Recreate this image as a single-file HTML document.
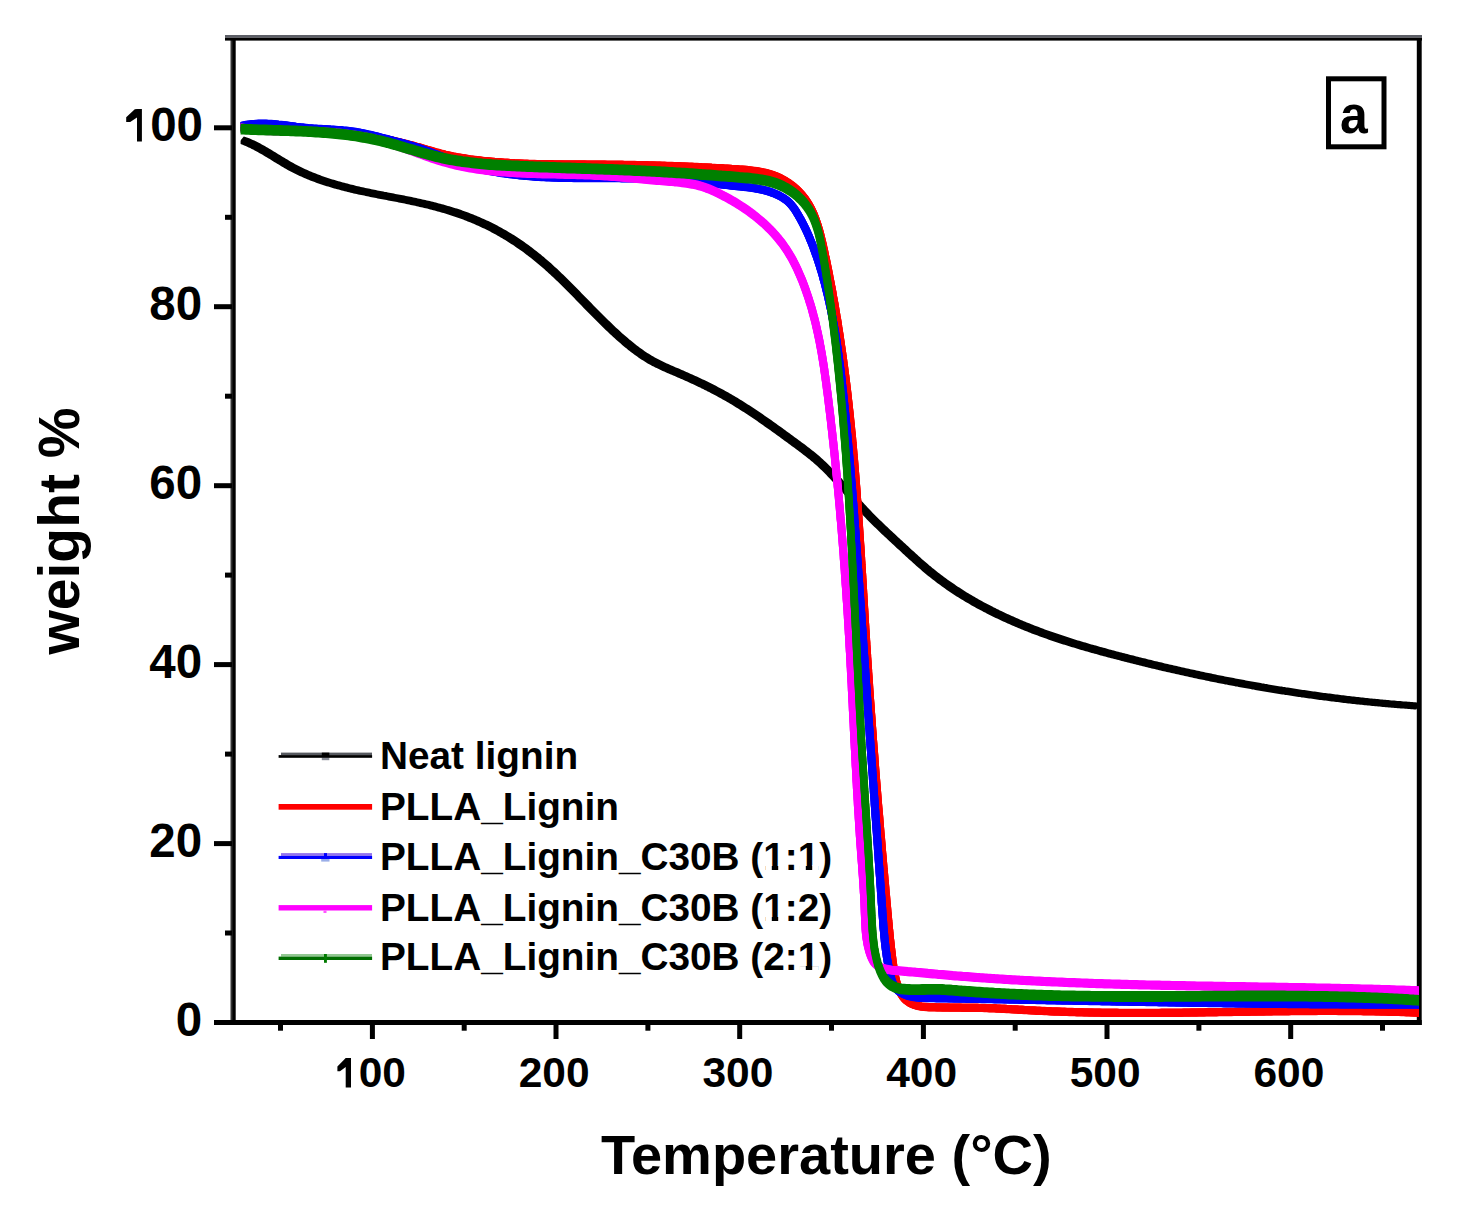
<!DOCTYPE html>
<html><head><meta charset="utf-8"><style>
html,body{margin:0;padding:0;background:#fff;}
body{width:1460px;height:1228px;overflow:hidden;font-family:"Liberation Sans",sans-serif;}
svg{position:absolute;left:0;top:0;}
</style></head><body>
<svg width="1460" height="1228" viewBox="0 0 1460 1228">
<defs><clipPath id="pc"><rect x="240.6" y="40.5" width="1178.4" height="979.5"/></clipPath><path id="cr" d="M241.0,126.8 243.5,126.8 246.0,126.8 248.5,126.9 251.0,126.9 253.4,126.9 255.9,127.0 258.4,127.0 260.9,127.1 263.4,127.1 265.9,127.2 268.4,127.2 270.9,127.3 273.4,127.4 275.9,127.5 278.4,127.6 280.9,127.6 283.3,127.7 285.8,127.9 288.3,128.0 290.8,128.1 293.3,128.2 295.8,128.3 298.3,128.5 300.8,128.6 303.3,128.8 305.8,129.0 308.3,129.1 310.8,129.3 313.3,129.5 315.8,129.7 318.3,129.9 320.8,130.1 323.3,130.3 325.8,130.6 328.3,130.8 330.8,131.0 333.3,131.3 335.7,131.6 338.2,131.9 340.7,132.1 343.2,132.4 345.7,132.7 348.2,133.1 350.6,133.4 353.1,133.7 355.6,134.1 358.1,134.4 360.5,134.8 363.0,135.2 365.5,135.6 367.9,136.0 370.4,136.4 372.9,136.8 375.3,137.3 377.8,137.7 380.2,138.2 382.7,138.7 385.1,139.2 387.6,139.7 390.0,140.2 392.5,140.7 394.9,141.3 397.3,141.8 399.7,142.4 402.2,143.0 404.6,143.6 407.0,144.2 409.4,144.8 411.8,145.4 414.2,146.1 416.7,146.8 419.1,147.4 421.4,148.1 423.8,148.8 426.2,149.5 428.6,150.2 431.0,150.9 433.4,151.6 435.8,152.3 438.2,152.9 440.6,153.6 443.0,154.2 445.5,154.8 447.9,155.3 450.3,155.8 452.7,156.4 455.2,156.8 457.6,157.3 460.1,157.7 462.5,158.1 465.0,158.5 467.4,158.9 469.9,159.3 472.4,159.6 474.8,159.9 477.3,160.2 479.8,160.5 482.2,160.8 484.7,161.1 487.2,161.3 489.7,161.5 492.2,161.7 494.6,162.0 497.1,162.2 499.6,162.3 502.1,162.5 504.6,162.7 507.1,162.8 509.6,163.0 512.1,163.1 514.6,163.3 517.1,163.4 519.5,163.5 522.0,163.6 524.5,163.7 527.0,163.8 529.5,163.9 532.0,163.9 534.5,164.0 537.0,164.1 539.5,164.1 542.0,164.2 544.5,164.2 547.0,164.3 549.5,164.3 552.0,164.3 554.5,164.4 557.0,164.4 559.5,164.4 562.1,164.4 564.6,164.5 567.1,164.5 569.6,164.5 572.1,164.5 574.6,164.5 577.1,164.5 579.6,164.5 582.1,164.5 584.6,164.5 587.1,164.6 589.6,164.6 592.1,164.6 594.6,164.6 597.1,164.6 599.6,164.6 602.1,164.6 604.6,164.6 607.1,164.7 609.6,164.7 612.1,164.7 614.6,164.7 617.1,164.8 619.6,164.8 622.1,164.8 624.6,164.9 627.1,164.9 629.5,164.9 632.0,165.0 634.5,165.0 637.0,165.1 639.5,165.1 642.0,165.2 644.5,165.2 647.0,165.3 649.5,165.4 652.0,165.4 654.5,165.5 657.0,165.6 659.5,165.6 662.0,165.7 664.4,165.8 666.9,165.9 669.4,165.9 671.9,166.0 674.4,166.1 676.9,166.2 679.4,166.3 681.9,166.4 684.4,166.5 686.9,166.6 689.4,166.7 691.9,166.8 694.4,166.9 696.9,167.0 699.4,167.1 701.9,167.3 704.4,167.4 706.8,167.5 709.3,167.6 711.8,167.8 714.3,167.9 716.8,168.1 719.3,168.2 721.8,168.3 724.3,168.5 726.8,168.6 729.3,168.8 731.8,169.0 734.3,169.1 736.9,169.3 739.4,169.5 741.9,169.6 744.4,169.8 746.9,170.0 749.3,170.3 751.8,170.6 754.3,170.9 756.8,171.2 759.2,171.6 761.7,172.1 764.1,172.6 766.5,173.2 768.9,173.8 771.2,174.5 773.6,175.3 775.9,176.2 778.2,177.2 780.5,178.2 782.7,179.4 784.9,180.6 787.1,182.0 789.2,183.4 791.3,184.9 793.3,186.4 795.2,188.1 797.1,189.8 798.9,191.6 800.6,193.4 802.2,195.2 803.8,197.2 805.3,199.1 806.6,201.1 808.0,203.2 809.2,205.3 810.4,207.4 811.5,209.6 812.6,211.8 813.6,214.0 814.5,216.3 815.4,218.6 816.2,220.9 817.0,223.3 817.8,225.6 818.5,228.0 819.2,230.4 819.9,232.8 820.5,235.3 821.1,237.7 821.7,240.2 822.3,242.6 822.9,245.1 823.4,247.6 824.0,250.0 824.5,252.5 825.0,255.0 825.5,257.5 826.1,259.9 826.6,262.4 827.1,264.9 827.6,267.3 828.1,269.8 828.6,272.3 829.1,274.8 829.5,277.2 830.0,279.7 830.5,282.2 831.0,284.6 831.4,287.1 831.9,289.6 832.4,292.0 832.8,294.5 833.2,297.0 833.7,299.4 834.1,301.9 834.6,304.4 835.0,306.8 835.4,309.3 835.8,311.8 836.2,314.2 836.6,316.7 837.1,319.2 837.5,321.6 837.9,324.1 838.2,326.6 838.6,329.0 839.0,331.5 839.4,334.0 839.8,336.4 840.1,338.9 840.5,341.4 840.9,343.8 841.2,346.3 841.6,348.8 841.9,351.2 842.3,353.7 842.6,356.2 843.0,358.6 843.3,361.1 843.6,363.6 844.0,366.0 844.3,368.5 844.6,371.0 844.9,373.4 845.3,375.9 845.6,378.4 845.9,380.9 846.2,383.3 846.5,385.8 846.8,388.3 847.1,390.7 847.4,393.2 847.7,395.7 847.9,398.2 848.2,400.6 848.5,403.1 848.8,405.6 849.0,408.1 849.3,410.5 849.6,413.0 849.8,415.5 850.1,418.0 850.3,420.5 850.6,422.9 850.9,425.4 851.1,427.9 851.3,430.4 851.6,432.9 851.8,435.3 852.1,437.8 852.3,440.3 852.5,442.8 852.8,445.3 853.0,447.8 853.2,450.2 853.4,452.7 853.6,455.2 853.9,457.7 854.1,460.2 854.3,462.7 854.5,465.2 854.7,467.6 854.9,470.1 855.1,472.6 855.3,475.1 855.5,477.6 855.7,480.1 855.9,482.6 856.1,485.1 856.3,487.5 856.5,490.0 856.7,492.5 856.9,495.0 857.0,497.5 857.2,500.0 857.4,502.5 857.6,505.0 857.8,507.5 857.9,510.0 858.1,512.5 858.3,515.0 858.5,517.5 858.6,519.9 858.8,522.4 859.0,524.9 859.1,527.4 859.3,529.9 859.5,532.4 859.6,534.9 859.8,537.4 860.0,539.9 860.1,542.4 860.3,544.9 860.5,547.4 860.6,549.9 860.8,552.4 860.9,554.9 861.1,557.4 861.2,559.9 861.4,562.4 861.5,564.9 861.7,567.3 861.9,569.8 862.0,572.3 862.2,574.8 862.3,577.3 862.5,579.8 862.6,582.3 862.8,584.8 862.9,587.3 863.1,589.8 863.2,592.3 863.4,594.8 863.5,597.3 863.7,599.8 863.8,602.3 864.0,604.8 864.1,607.3 864.3,609.8 864.4,612.3 864.6,614.8 864.7,617.3 864.9,619.8 865.0,622.3 865.2,624.8 865.3,627.3 865.5,629.8 865.7,632.3 865.8,634.8 866.0,637.2 866.1,639.7 866.3,642.2 866.4,644.7 866.6,647.2 866.8,649.7 866.9,652.2 867.1,654.7 867.2,657.2 867.4,659.7 867.6,662.2 867.7,664.7 867.9,667.2 868.1,669.7 868.2,672.2 868.4,674.7 868.6,677.2 868.7,679.7 868.9,682.1 869.1,684.6 869.2,687.1 869.4,689.6 869.6,692.1 869.8,694.6 869.9,697.1 870.1,699.6 870.3,702.1 870.5,704.6 870.7,707.1 870.8,709.6 871.0,712.1 871.2,714.5 871.4,717.0 871.6,719.5 871.7,722.0 871.9,724.5 872.1,727.0 872.3,729.5 872.5,732.0 872.7,734.5 872.8,737.0 873.0,739.5 873.2,741.9 873.4,744.4 873.6,746.9 873.8,749.4 874.0,751.9 874.2,754.4 874.4,756.9 874.6,759.4 874.7,761.9 874.9,764.3 875.1,766.8 875.3,769.3 875.5,771.8 875.7,774.3 875.9,776.8 876.1,779.3 876.3,781.8 876.5,784.3 876.7,786.7 876.9,789.2 877.1,791.7 877.3,794.2 877.5,796.7 877.7,799.2 877.9,801.7 878.1,804.2 878.3,806.6 878.5,809.1 878.8,811.6 879.0,814.1 879.2,816.6 879.4,819.1 879.6,821.6 879.8,824.1 880.0,826.5 880.2,829.0 880.4,831.5 880.6,834.0 880.8,836.5 881.1,839.0 881.3,841.5 881.5,843.9 881.7,846.4 881.9,848.9 882.1,851.4 882.3,853.9 882.6,856.4 882.8,858.9 883.0,861.3 883.2,863.8 883.4,866.3 883.6,868.8 883.9,871.3 884.1,873.8 884.3,876.2 884.5,878.7 884.7,881.2 885.0,883.7 885.2,886.2 885.4,888.7 885.6,891.2 885.8,893.6 886.1,896.1 886.3,898.6 886.5,901.1 886.7,903.6 887.0,906.1 887.2,908.5 887.4,911.0 887.6,913.5 887.9,916.0 888.1,918.5 888.3,921.0 888.6,923.5 888.8,925.9 889.0,928.4 889.3,930.9 889.5,933.4 889.8,935.9 890.0,938.4 890.3,940.9 890.6,943.4 890.8,945.9 891.1,948.3 891.4,950.8 891.7,953.3 892.0,955.8 892.3,958.3 892.6,960.8 893.0,963.3 893.3,965.8 893.7,968.3 894.1,970.8 894.5,973.3 895.0,975.8 895.5,978.3 896.1,980.8 896.8,983.2 897.5,985.6 898.4,988.0 899.3,990.3 900.3,992.5 901.5,994.6 902.8,996.6 904.3,998.4 906.0,1000.1 907.8,1001.5 909.7,1002.8 911.9,1003.9 914.1,1004.8 916.4,1005.5 918.9,1006.1 921.4,1006.5 924.0,1006.8 926.6,1007.0 929.3,1007.2 932.0,1007.3 934.6,1007.3 937.3,1007.4 939.9,1007.4 942.5,1007.5 945.0,1007.5 947.6,1007.5 950.1,1007.6 952.7,1007.6 955.2,1007.6 957.6,1007.6 960.1,1007.6 962.6,1007.7 965.1,1007.7 967.5,1007.7 970.0,1007.7 972.4,1007.8 974.8,1007.8 977.3,1007.8 979.7,1007.9 982.2,1007.9 984.6,1008.0 987.0,1008.1 989.5,1008.2 991.9,1008.2 994.4,1008.3 996.9,1008.5 999.4,1008.6 1001.8,1008.7 1004.3,1008.8 1006.8,1009.0 1009.3,1009.1 1011.8,1009.3 1014.3,1009.4 1016.8,1009.5 1019.3,1009.7 1021.8,1009.8 1024.4,1010.0 1026.9,1010.1 1029.4,1010.3 1031.9,1010.4 1034.4,1010.5 1036.9,1010.7 1039.4,1010.8 1041.9,1010.9 1044.4,1011.0 1046.9,1011.1 1049.4,1011.2 1051.9,1011.4 1054.4,1011.5 1056.9,1011.5 1059.4,1011.6 1061.9,1011.7 1064.5,1011.8 1067.0,1011.9 1069.5,1012.0 1072.0,1012.0 1074.5,1012.1 1077.0,1012.2 1079.4,1012.3 1081.9,1012.3 1084.4,1012.4 1086.9,1012.4 1089.4,1012.5 1091.9,1012.5 1094.4,1012.6 1096.9,1012.6 1099.4,1012.6 1101.9,1012.7 1104.4,1012.7 1106.9,1012.8 1109.4,1012.8 1111.9,1012.8 1114.4,1012.8 1116.9,1012.8 1119.4,1012.9 1121.9,1012.9 1124.3,1012.9 1126.8,1012.9 1129.3,1012.9 1131.8,1012.9 1134.3,1012.9 1136.8,1012.9 1139.3,1012.9 1141.8,1012.9 1144.3,1012.9 1146.8,1012.9 1149.2,1012.9 1151.7,1012.9 1154.2,1012.9 1156.7,1012.9 1159.2,1012.9 1161.7,1012.8 1164.2,1012.8 1166.7,1012.8 1169.2,1012.8 1171.6,1012.8 1174.1,1012.7 1176.6,1012.7 1179.1,1012.7 1181.6,1012.7 1184.1,1012.6 1186.6,1012.6 1189.0,1012.6 1191.5,1012.5 1194.0,1012.5 1196.5,1012.5 1199.0,1012.4 1201.5,1012.4 1204.0,1012.4 1206.5,1012.3 1208.9,1012.3 1211.4,1012.3 1213.9,1012.2 1216.4,1012.2 1218.9,1012.1 1221.4,1012.1 1223.9,1012.1 1226.4,1012.0 1228.8,1012.0 1231.3,1012.0 1233.8,1011.9 1236.3,1011.9 1238.8,1011.8 1241.3,1011.8 1243.8,1011.8 1246.3,1011.7 1248.7,1011.7 1251.2,1011.6 1253.7,1011.6 1256.2,1011.6 1258.7,1011.5 1261.2,1011.5 1263.7,1011.5 1266.2,1011.4 1268.7,1011.4 1271.2,1011.4 1273.6,1011.3 1276.1,1011.3 1278.6,1011.3 1281.1,1011.2 1283.6,1011.2 1286.1,1011.2 1288.6,1011.2 1291.1,1011.1 1293.6,1011.1 1296.1,1011.1 1298.6,1011.1 1301.1,1011.0 1303.6,1011.0 1306.1,1011.0 1308.6,1011.0 1311.1,1011.0 1313.6,1011.0 1316.1,1011.0 1318.6,1010.9 1321.1,1010.9 1323.6,1010.9 1326.1,1010.9 1328.6,1010.9 1331.1,1010.9 1333.6,1010.9 1336.1,1010.9 1338.6,1011.0 1341.1,1011.0 1343.6,1011.0 1346.1,1011.0 1348.6,1011.0 1351.1,1011.0 1353.6,1011.1 1356.1,1011.1 1358.6,1011.1 1361.1,1011.1 1363.6,1011.2 1366.1,1011.2 1368.6,1011.2 1371.1,1011.3 1373.7,1011.3 1376.2,1011.4 1378.7,1011.4 1381.2,1011.5 1383.7,1011.5 1386.2,1011.6 1388.7,1011.7 1391.3,1011.7 1393.8,1011.8 1396.3,1011.9 1398.8,1011.9 1401.3,1012.0 1403.9,1012.1 1406.4,1012.2 1408.9,1012.3 1411.4,1012.4 1413.9,1012.5 1416.5,1012.6 1419.0,1012.7"/><path id="cb" d="M241.0,126.0 243.5,125.5 246.1,125.0 248.6,124.6 251.1,124.3 253.6,124.1 256.1,123.9 258.6,123.8 261.1,123.8 263.6,123.8 266.1,123.8 268.6,123.9 271.1,124.0 273.6,124.2 276.1,124.4 278.5,124.7 281.0,124.9 283.5,125.2 286.0,125.5 288.5,125.8 290.9,126.1 293.4,126.4 295.9,126.8 298.4,127.1 300.9,127.4 303.3,127.6 305.8,127.9 308.3,128.2 310.8,128.4 313.3,128.6 315.8,128.7 318.3,128.9 320.7,129.0 323.2,129.2 325.7,129.3 328.2,129.4 330.7,129.6 333.2,129.7 335.7,129.9 338.1,130.1 340.6,130.2 343.1,130.5 345.6,130.7 348.1,131.0 350.5,131.3 353.0,131.6 355.5,132.0 357.9,132.4 360.4,132.8 362.8,133.3 365.3,133.8 367.7,134.4 370.2,134.9 372.6,135.5 375.1,136.1 377.5,136.7 379.9,137.3 382.4,138.0 384.8,138.6 387.2,139.2 389.6,139.9 392.0,140.5 394.4,141.2 396.9,141.8 399.3,142.4 401.7,143.1 404.1,143.7 406.5,144.4 408.8,145.0 411.2,145.7 413.6,146.4 416.0,147.2 418.4,147.9 420.7,148.7 423.1,149.5 425.4,150.4 427.8,151.2 430.1,152.1 432.5,153.0 434.8,153.9 437.2,154.8 439.5,155.7 441.9,156.6 444.2,157.5 446.6,158.4 448.9,159.2 451.3,160.1 453.7,161.0 456.0,161.8 458.4,162.6 460.8,163.4 463.1,164.1 465.5,164.9 467.9,165.6 470.3,166.3 472.7,166.9 475.1,167.5 477.5,168.1 479.9,168.7 482.4,169.3 484.8,169.8 487.2,170.3 489.6,170.8 492.1,171.3 494.5,171.7 497.0,172.2 499.4,172.6 501.8,173.0 504.3,173.3 506.8,173.7 509.2,174.0 511.7,174.3 514.1,174.6 516.6,174.9 519.1,175.2 521.6,175.4 524.0,175.7 526.5,175.9 529.0,176.1 531.5,176.3 534.0,176.5 536.5,176.7 539.0,176.8 541.5,177.0 544.0,177.1 546.5,177.2 549.0,177.3 551.5,177.4 554.0,177.5 556.5,177.6 559.0,177.7 561.5,177.7 564.0,177.8 566.5,177.9 569.0,177.9 571.5,177.9 574.0,178.0 576.6,178.0 579.1,178.0 581.6,178.1 584.1,178.1 586.6,178.1 589.1,178.1 591.6,178.1 594.2,178.1 596.7,178.1 599.2,178.1 601.7,178.1 604.2,178.1 606.7,178.1 609.2,178.1 611.8,178.1 614.3,178.1 616.8,178.1 619.3,178.1 621.8,178.2 624.3,178.2 626.8,178.2 629.3,178.2 631.8,178.2 634.3,178.3 636.8,178.3 639.3,178.4 641.8,178.4 644.3,178.5 646.8,178.6 649.3,178.6 651.8,178.7 654.3,178.8 656.8,178.9 659.3,179.0 661.7,179.2 664.2,179.3 666.7,179.5 669.2,179.6 671.6,179.8 674.1,180.0 676.6,180.1 679.0,180.3 681.5,180.5 684.0,180.7 686.4,180.9 688.9,181.2 691.4,181.4 693.8,181.6 696.3,181.9 698.8,182.1 701.2,182.3 703.7,182.6 706.2,182.8 708.7,183.1 711.1,183.4 713.6,183.6 716.1,183.9 718.6,184.1 721.1,184.4 723.6,184.7 726.1,184.9 728.6,185.2 731.1,185.5 733.6,185.7 736.1,186.0 738.6,186.2 741.1,186.5 743.7,186.8 746.2,187.1 748.7,187.4 751.2,187.7 753.7,188.1 756.2,188.5 758.6,189.0 761.1,189.5 763.5,190.0 765.9,190.6 768.3,191.3 770.6,192.1 772.9,192.9 775.2,193.8 777.5,194.8 779.7,195.9 781.8,197.1 783.9,198.4 785.9,199.8 787.9,201.4 789.7,203.1 791.3,204.9 792.9,206.9 794.4,208.9 795.8,211.0 797.1,213.2 798.4,215.3 799.6,217.5 800.9,219.7 802.0,221.9 803.2,224.1 804.3,226.4 805.4,228.6 806.5,230.9 807.5,233.1 808.5,235.4 809.5,237.7 810.4,240.0 811.4,242.3 812.3,244.6 813.2,246.9 814.0,249.3 814.9,251.6 815.7,254.0 816.6,256.3 817.4,258.7 818.2,261.1 818.9,263.4 819.7,265.8 820.4,268.2 821.2,270.6 821.9,273.0 822.6,275.4 823.2,277.8 823.9,280.3 824.6,282.7 825.2,285.1 825.8,287.5 826.4,290.0 827.0,292.4 827.6,294.8 828.2,297.2 828.7,299.7 829.3,302.1 829.8,304.6 830.3,307.0 830.9,309.4 831.4,311.9 831.8,314.3 832.3,316.8 832.8,319.2 833.2,321.7 833.7,324.1 834.1,326.6 834.6,329.0 835.0,331.5 835.4,334.0 835.8,336.4 836.2,338.9 836.6,341.4 836.9,343.8 837.3,346.3 837.7,348.8 838.0,351.2 838.3,353.7 838.7,356.2 839.0,358.6 839.3,361.1 839.7,363.6 840.0,366.1 840.3,368.5 840.6,371.0 840.9,373.5 841.2,376.0 841.5,378.5 841.8,380.9 842.0,383.4 842.3,385.9 842.6,388.4 842.9,390.9 843.1,393.3 843.4,395.8 843.7,398.3 843.9,400.8 844.2,403.3 844.4,405.8 844.7,408.3 844.9,410.7 845.2,413.2 845.4,415.7 845.7,418.2 845.9,420.7 846.2,423.2 846.4,425.6 846.7,428.1 846.9,430.6 847.1,433.1 847.4,435.6 847.6,438.1 847.8,440.6 848.1,443.0 848.3,445.5 848.5,448.0 848.7,450.5 849.0,453.0 849.2,455.5 849.4,458.0 849.6,460.5 849.9,462.9 850.1,465.4 850.3,467.9 850.5,470.4 850.7,472.9 850.9,475.4 851.1,477.9 851.3,480.4 851.6,482.9 851.8,485.3 852.0,487.8 852.2,490.3 852.4,492.8 852.6,495.3 852.8,497.8 853.0,500.3 853.2,502.8 853.4,505.3 853.6,507.7 853.8,510.2 854.0,512.7 854.2,515.2 854.3,517.7 854.5,520.2 854.7,522.7 854.9,525.2 855.1,527.7 855.3,530.2 855.5,532.7 855.7,535.1 855.9,537.6 856.0,540.1 856.2,542.6 856.4,545.1 856.6,547.6 856.8,550.1 857.0,552.6 857.1,555.1 857.3,557.6 857.5,560.1 857.7,562.5 857.9,565.0 858.0,567.5 858.2,570.0 858.4,572.5 858.6,575.0 858.7,577.5 858.9,580.0 859.1,582.5 859.3,585.0 859.4,587.5 859.6,590.0 859.8,592.5 860.0,594.9 860.1,597.4 860.3,599.9 860.5,602.4 860.7,604.9 860.8,607.4 861.0,609.9 861.2,612.4 861.4,614.9 861.5,617.4 861.7,619.9 861.9,622.4 862.0,624.9 862.2,627.3 862.4,629.8 862.6,632.3 862.7,634.8 862.9,637.3 863.1,639.8 863.2,642.3 863.4,644.8 863.6,647.3 863.8,649.8 863.9,652.3 864.1,654.8 864.3,657.2 864.5,659.7 864.6,662.2 864.8,664.7 865.0,667.2 865.2,669.7 865.3,672.2 865.5,674.7 865.7,677.2 865.9,679.7 866.0,682.2 866.2,684.7 866.4,687.1 866.6,689.6 866.7,692.1 866.9,694.6 867.1,697.1 867.3,699.6 867.4,702.1 867.6,704.6 867.8,707.1 868.0,709.6 868.1,712.1 868.3,714.6 868.5,717.0 868.7,719.5 868.8,722.0 869.0,724.5 869.2,727.0 869.4,729.5 869.6,732.0 869.7,734.5 869.9,737.0 870.1,739.5 870.3,742.0 870.4,744.4 870.6,746.9 870.8,749.4 871.0,751.9 871.2,754.4 871.3,756.9 871.5,759.4 871.7,761.9 871.9,764.4 872.1,766.9 872.2,769.4 872.4,771.8 872.6,774.3 872.8,776.8 872.9,779.3 873.1,781.8 873.3,784.3 873.5,786.8 873.7,789.3 873.8,791.8 874.0,794.3 874.2,796.8 874.4,799.2 874.6,801.7 874.7,804.2 874.9,806.7 875.1,809.2 875.3,811.7 875.4,814.2 875.6,816.7 875.8,819.2 876.0,821.7 876.2,824.2 876.3,826.6 876.5,829.1 876.7,831.6 876.9,834.1 877.0,836.6 877.2,839.1 877.4,841.6 877.6,844.1 877.8,846.6 877.9,849.1 878.1,851.5 878.3,854.0 878.5,856.5 878.6,859.0 878.8,861.5 879.0,864.0 879.2,866.5 879.4,869.0 879.5,871.5 879.7,874.0 879.9,876.5 880.1,878.9 880.2,881.4 880.4,883.9 880.6,886.4 880.8,888.9 880.9,891.4 881.1,893.9 881.3,896.4 881.5,898.9 881.6,901.4 881.8,903.9 882.0,906.3 882.2,908.8 882.3,911.3 882.5,913.8 882.7,916.3 882.9,918.8 883.1,921.3 883.2,923.8 883.4,926.3 883.6,928.8 883.9,931.2 884.1,933.7 884.3,936.2 884.6,938.7 884.8,941.2 885.1,943.7 885.4,946.2 885.7,948.7 886.0,951.1 886.4,953.6 886.7,956.1 887.1,958.6 887.5,961.1 888.0,963.5 888.4,966.0 888.9,968.5 889.5,971.0 890.0,973.5 890.6,975.9 891.2,978.4 891.9,980.8 892.8,983.1 893.8,985.3 895.1,987.3 896.6,989.2 898.3,990.8 900.3,992.2 902.4,993.5 904.6,994.5 906.9,995.4 909.2,996.1 911.6,996.6 914.0,997.1 916.4,997.4 918.9,997.7 921.4,997.8 923.9,997.9 926.5,998.0 929.0,998.0 931.5,998.1 934.1,998.1 936.6,998.2 939.1,998.2 941.7,998.3 944.2,998.3 946.7,998.3 949.3,998.4 951.8,998.4 954.3,998.5 956.8,998.5 959.4,998.6 961.9,998.6 964.4,998.6 966.9,998.7 969.4,998.7 972.0,998.8 974.5,998.8 977.0,998.9 979.5,998.9 982.0,999.0 984.6,999.0 987.1,999.1 989.6,999.1 992.1,999.1 994.6,999.2 997.1,999.2 999.6,999.3 1002.1,999.3 1004.6,999.4 1007.2,999.4 1009.7,999.5 1012.2,999.5 1014.7,999.6 1017.2,999.6 1019.7,999.7 1022.2,999.7 1024.7,999.8 1027.2,999.8 1029.7,999.8 1032.2,999.9 1034.7,999.9 1037.2,1000.0 1039.7,1000.0 1042.2,1000.1 1044.7,1000.1 1047.2,1000.2 1049.7,1000.2 1052.2,1000.3 1054.7,1000.3 1057.2,1000.4 1059.7,1000.4 1062.2,1000.5 1064.7,1000.5 1067.1,1000.5 1069.6,1000.6 1072.1,1000.6 1074.6,1000.7 1077.1,1000.7 1079.6,1000.8 1082.1,1000.8 1084.6,1000.9 1087.1,1000.9 1089.6,1001.0 1092.1,1001.0 1094.5,1001.1 1097.0,1001.1 1099.5,1001.1 1102.0,1001.2 1104.5,1001.2 1107.0,1001.3 1109.5,1001.3 1112.0,1001.4 1114.4,1001.4 1116.9,1001.5 1119.4,1001.5 1121.9,1001.5 1124.4,1001.6 1126.9,1001.6 1129.3,1001.7 1131.8,1001.7 1134.3,1001.8 1136.8,1001.8 1139.3,1001.9 1141.8,1001.9 1144.3,1001.9 1146.7,1002.0 1149.2,1002.0 1151.7,1002.1 1154.2,1002.1 1156.7,1002.1 1159.1,1002.2 1161.6,1002.2 1164.1,1002.3 1166.6,1002.3 1169.1,1002.4 1171.6,1002.4 1174.0,1002.4 1176.5,1002.5 1179.0,1002.5 1181.5,1002.6 1184.0,1002.6 1186.5,1002.6 1188.9,1002.7 1191.4,1002.7 1193.9,1002.7 1196.4,1002.8 1198.9,1002.8 1201.4,1002.9 1203.8,1002.9 1206.3,1002.9 1208.8,1003.0 1211.3,1003.0 1213.8,1003.0 1216.3,1003.1 1218.7,1003.1 1221.2,1003.1 1223.7,1003.2 1226.2,1003.2 1228.7,1003.3 1231.2,1003.3 1233.6,1003.3 1236.1,1003.4 1238.6,1003.4 1241.1,1003.4 1243.6,1003.4 1246.1,1003.5 1248.6,1003.5 1251.0,1003.5 1253.5,1003.6 1256.0,1003.6 1258.5,1003.6 1261.0,1003.7 1263.5,1003.7 1266.0,1003.7 1268.5,1003.7 1271.0,1003.8 1273.4,1003.8 1275.9,1003.8 1278.4,1003.9 1280.9,1003.9 1283.4,1003.9 1285.9,1003.9 1288.4,1004.0 1290.9,1004.0 1293.4,1004.0 1295.9,1004.0 1298.4,1004.0 1300.9,1004.1 1303.4,1004.1 1305.9,1004.1 1308.4,1004.1 1310.9,1004.2 1313.4,1004.2 1315.9,1004.2 1318.4,1004.2 1320.9,1004.2 1323.4,1004.2 1325.9,1004.3 1328.4,1004.3 1330.9,1004.3 1333.4,1004.3 1335.9,1004.3 1338.4,1004.3 1340.9,1004.4 1343.4,1004.4 1345.9,1004.4 1348.4,1004.4 1350.9,1004.4 1353.4,1004.4 1355.9,1004.4 1358.5,1004.4 1361.0,1004.4 1363.5,1004.5 1366.0,1004.5 1368.5,1004.5 1371.0,1004.5 1373.5,1004.5 1376.1,1004.5 1378.6,1004.5 1381.1,1004.5 1383.6,1004.5 1386.1,1004.5 1388.7,1004.5 1391.2,1004.5 1393.7,1004.5 1396.2,1004.5 1398.8,1004.5 1401.3,1004.5 1403.8,1004.5 1406.3,1004.5 1408.9,1004.5 1411.4,1004.5 1413.9,1004.5 1416.5,1004.5 1419.0,1004.5"/><path id="cm" d="M238.4,127.5 240.8,127.9 243.3,128.3 245.7,128.7 248.2,129.0 250.7,129.3 253.1,129.6 255.6,129.8 258.1,130.0 260.5,130.2 263.0,130.3 265.5,130.5 268.0,130.6 270.5,130.7 273.0,130.7 275.5,130.8 277.9,130.8 280.4,130.9 282.9,130.9 285.4,130.9 287.9,131.0 290.4,131.0 292.9,131.0 295.4,131.0 298.0,131.1 300.5,131.1 303.0,131.2 305.5,131.2 308.0,131.3 310.5,131.4 313.0,131.5 315.5,131.6 318.0,131.7 320.5,131.8 323.0,132.0 325.5,132.1 328.0,132.3 330.5,132.5 333.0,132.7 335.5,132.9 338.0,133.2 340.5,133.4 342.9,133.7 345.4,134.0 347.9,134.3 350.4,134.7 352.8,135.0 355.3,135.4 357.8,135.8 360.2,136.2 362.7,136.7 365.1,137.1 367.6,137.6 370.0,138.1 372.4,138.7 374.9,139.2 377.3,139.8 379.7,140.5 382.1,141.1 384.5,141.8 386.9,142.5 389.3,143.2 391.7,143.9 394.0,144.7 396.4,145.5 398.8,146.3 401.2,147.1 403.5,147.9 405.9,148.7 408.2,149.5 410.6,150.4 412.9,151.2 415.3,152.1 417.6,153.0 420.0,153.8 422.3,154.7 424.7,155.5 427.0,156.3 429.4,157.2 431.7,158.0 434.1,158.8 436.5,159.5 438.8,160.3 441.2,161.0 443.6,161.7 446.0,162.4 448.4,163.1 450.8,163.7 453.2,164.3 455.6,164.9 458.1,165.5 460.5,166.0 462.9,166.5 465.4,167.0 467.8,167.4 470.3,167.9 472.8,168.3 475.2,168.7 477.7,169.1 480.2,169.4 482.6,169.8 485.1,170.1 487.6,170.4 490.1,170.7 492.6,170.9 495.1,171.2 497.5,171.4 500.0,171.6 502.5,171.8 505.0,172.0 507.5,172.2 510.0,172.4 512.5,172.5 515.0,172.7 517.5,172.8 520.0,173.0 522.5,173.1 525.0,173.2 527.5,173.3 530.0,173.4 532.5,173.5 535.0,173.5 537.5,173.6 540.0,173.7 542.5,173.8 545.0,173.8 547.5,173.9 550.0,173.9 552.5,174.0 555.0,174.0 557.5,174.1 560.0,174.2 562.5,174.2 565.0,174.3 567.4,174.3 569.9,174.4 572.4,174.4 574.9,174.5 577.4,174.6 579.9,174.7 582.4,174.7 584.9,174.8 587.4,174.9 589.9,175.0 592.4,175.1 594.9,175.3 597.3,175.4 599.8,175.5 602.3,175.7 604.8,175.8 607.3,176.0 609.8,176.2 612.2,176.4 614.7,176.5 617.2,176.7 619.7,177.0 622.1,177.2 624.6,177.4 627.1,177.6 629.6,177.8 632.1,178.0 634.6,178.3 637.0,178.5 639.5,178.7 642.0,179.0 644.5,179.2 647.0,179.4 649.5,179.6 652.0,179.9 654.5,180.1 657.0,180.3 659.5,180.5 662.0,180.7 664.5,180.9 667.0,181.1 669.5,181.3 672.1,181.5 674.6,181.8 677.1,182.0 679.6,182.3 682.1,182.6 684.5,182.9 687.0,183.3 689.5,183.7 691.9,184.1 694.4,184.6 696.8,185.1 699.2,185.7 701.6,186.4 703.9,187.1 706.3,188.0 708.6,188.8 710.9,189.8 713.1,190.8 715.4,191.8 717.6,192.9 719.9,194.0 722.1,195.1 724.3,196.3 726.5,197.4 728.7,198.6 730.9,199.9 733.1,201.1 735.3,202.4 737.4,203.7 739.5,205.1 741.6,206.4 743.7,207.8 745.8,209.2 747.9,210.7 749.9,212.1 751.9,213.6 753.9,215.1 755.9,216.7 757.8,218.3 759.7,219.9 761.6,221.5 763.5,223.1 765.3,224.8 767.1,226.5 768.9,228.3 770.7,230.0 772.4,231.8 774.1,233.7 775.7,235.5 777.3,237.4 778.9,239.3 780.5,241.3 782.0,243.2 783.4,245.2 784.9,247.3 786.3,249.3 787.6,251.4 788.9,253.5 790.2,255.7 791.5,257.8 792.7,260.0 793.8,262.2 795.0,264.5 796.1,266.7 797.2,269.0 798.2,271.3 799.2,273.6 800.2,275.9 801.2,278.2 802.2,280.5 803.1,282.9 804.0,285.2 804.8,287.6 805.7,289.9 806.5,292.3 807.3,294.6 808.1,297.0 808.9,299.4 809.6,301.8 810.4,304.2 811.1,306.5 811.8,308.9 812.4,311.3 813.1,313.7 813.7,316.1 814.4,318.6 815.0,321.0 815.6,323.4 816.1,325.8 816.7,328.3 817.2,330.7 817.8,333.1 818.3,335.6 818.8,338.0 819.3,340.4 819.8,342.9 820.2,345.3 820.7,347.8 821.1,350.2 821.6,352.7 822.0,355.2 822.4,357.6 822.8,360.1 823.2,362.6 823.6,365.0 824.0,367.5 824.3,370.0 824.7,372.4 825.0,374.9 825.4,377.4 825.7,379.9 826.1,382.4 826.4,384.8 826.7,387.3 827.0,389.8 827.4,392.3 827.7,394.8 828.0,397.2 828.3,399.7 828.6,402.2 828.9,404.7 829.2,407.2 829.5,409.6 829.8,412.1 830.1,414.6 830.4,417.1 830.7,419.6 831.0,422.1 831.2,424.5 831.5,427.0 831.8,429.5 832.1,432.0 832.4,434.5 832.6,436.9 832.9,439.4 833.2,441.9 833.5,444.4 833.7,446.9 834.0,449.4 834.3,451.8 834.5,454.3 834.8,456.8 835.0,459.3 835.3,461.8 835.5,464.2 835.8,466.7 836.0,469.2 836.3,471.7 836.5,474.2 836.8,476.7 837.0,479.1 837.3,481.6 837.5,484.1 837.7,486.6 838.0,489.1 838.2,491.6 838.4,494.0 838.7,496.5 838.9,499.0 839.1,501.5 839.3,504.0 839.6,506.5 839.8,508.9 840.0,511.4 840.2,513.9 840.4,516.4 840.6,518.9 840.9,521.4 841.1,523.8 841.3,526.3 841.5,528.8 841.7,531.3 841.9,533.8 842.1,536.3 842.3,538.8 842.5,541.2 842.7,543.7 842.9,546.2 843.1,548.7 843.3,551.2 843.5,553.7 843.7,556.2 843.8,558.7 844.0,561.1 844.2,563.6 844.4,566.1 844.6,568.6 844.8,571.1 844.9,573.6 845.1,576.1 845.3,578.6 845.5,581.1 845.6,583.5 845.8,586.0 846.0,588.5 846.1,591.0 846.3,593.5 846.5,596.0 846.6,598.5 846.8,601.0 847.0,603.5 847.1,606.0 847.3,608.5 847.5,610.9 847.6,613.4 847.8,615.9 847.9,618.4 848.1,620.9 848.2,623.4 848.4,625.9 848.5,628.4 848.7,630.9 848.8,633.4 849.0,635.9 849.1,638.4 849.3,640.9 849.4,643.4 849.5,645.9 849.7,648.4 849.8,650.9 850.0,653.4 850.1,655.9 850.2,658.4 850.4,660.9 850.5,663.4 850.6,665.9 850.8,668.4 850.9,670.9 851.0,673.4 851.2,675.9 851.3,678.4 851.4,680.9 851.6,683.4 851.7,685.9 851.8,688.4 851.9,690.9 852.1,693.4 852.2,695.9 852.3,698.4 852.4,700.9 852.6,703.4 852.7,705.9 852.8,708.4 852.9,710.9 853.1,713.4 853.2,715.9 853.3,718.4 853.4,720.9 853.6,723.4 853.7,725.9 853.8,728.4 853.9,730.9 854.1,733.4 854.2,735.9 854.3,738.4 854.4,740.9 854.6,743.4 854.7,745.9 854.8,748.4 855.0,750.9 855.1,753.4 855.2,755.9 855.3,758.4 855.5,760.8 855.6,763.3 855.7,765.8 855.9,768.3 856.0,770.8 856.1,773.3 856.3,775.8 856.4,778.3 856.5,780.8 856.7,783.3 856.8,785.8 856.9,788.2 857.1,790.7 857.2,793.2 857.4,795.7 857.5,798.2 857.7,800.7 857.8,803.2 857.9,805.6 858.1,808.1 858.2,810.6 858.4,813.1 858.6,815.6 858.7,818.0 858.9,820.5 859.0,823.0 859.2,825.5 859.3,827.9 859.5,830.4 859.7,832.9 859.8,835.4 860.0,837.8 860.2,840.3 860.3,842.8 860.5,845.2 860.7,847.7 860.9,850.2 861.0,852.6 861.2,855.1 861.4,857.5 861.6,860.0 861.8,862.5 862.0,864.9 862.1,867.4 862.3,869.9 862.5,872.3 862.7,874.8 862.9,877.3 863.0,879.8 863.2,882.3 863.4,884.7 863.5,887.2 863.7,889.7 863.8,892.2 864.0,894.8 864.1,897.3 864.2,899.8 864.4,902.3 864.5,904.9 864.6,907.4 864.7,910.0 864.8,912.6 864.9,915.1 865.0,917.7 865.1,920.3 865.2,922.9 865.4,925.4 865.5,928.0 865.7,930.6 865.9,933.1 866.2,935.6 866.5,938.2 866.9,940.6 867.3,943.1 867.8,945.6 868.4,948.0 869.0,950.4 869.7,952.7 870.5,955.0 871.4,957.3 872.4,959.4 873.5,961.5 874.9,963.3 876.5,964.8 878.3,966.1 880.2,967.2 882.3,968.1 884.6,968.8 887.0,969.4 889.4,969.8 892.0,970.2 894.6,970.5 897.2,970.7 899.8,970.9 902.4,971.1 905.0,971.3 907.6,971.6 910.2,971.8 912.7,972.0 915.3,972.2 917.8,972.5 920.3,972.7 922.8,972.9 925.3,973.1 927.8,973.4 930.3,973.6 932.8,973.8 935.3,974.0 937.8,974.3 940.2,974.5 942.7,974.7 945.2,974.9 947.7,975.1 950.1,975.3 952.6,975.6 955.1,975.8 957.6,976.0 960.1,976.2 962.5,976.4 965.0,976.5 967.5,976.7 970.0,976.9 972.4,977.1 974.9,977.3 977.4,977.5 979.9,977.7 982.4,977.8 984.9,978.0 987.3,978.2 989.8,978.3 992.3,978.5 994.8,978.7 997.3,978.8 999.7,979.0 1002.2,979.1 1004.7,979.3 1007.2,979.5 1009.7,979.6 1012.2,979.8 1014.7,979.9 1017.1,980.0 1019.6,980.2 1022.1,980.3 1024.6,980.5 1027.1,980.6 1029.6,980.7 1032.1,980.8 1034.6,981.0 1037.1,981.1 1039.5,981.2 1042.0,981.3 1044.5,981.5 1047.0,981.6 1049.5,981.7 1052.0,981.8 1054.5,981.9 1057.0,982.0 1059.5,982.1 1062.0,982.2 1064.5,982.3 1066.9,982.5 1069.4,982.6 1071.9,982.7 1074.4,982.7 1076.9,982.8 1079.4,982.9 1081.9,983.0 1084.4,983.1 1086.9,983.2 1089.4,983.3 1091.9,983.4 1094.4,983.5 1096.9,983.6 1099.4,983.6 1101.9,983.7 1104.4,983.8 1106.9,983.9 1109.4,983.9 1111.9,984.0 1114.4,984.1 1116.9,984.2 1119.3,984.2 1121.8,984.3 1124.3,984.4 1126.8,984.4 1129.3,984.5 1131.8,984.6 1134.3,984.6 1136.8,984.7 1139.3,984.8 1141.8,984.8 1144.3,984.9 1146.8,985.0 1149.3,985.0 1151.8,985.1 1154.3,985.1 1156.8,985.2 1159.3,985.2 1161.8,985.3 1164.3,985.3 1166.8,985.4 1169.3,985.4 1171.8,985.5 1174.3,985.5 1176.8,985.6 1179.3,985.6 1181.8,985.7 1184.3,985.7 1186.8,985.8 1189.3,985.8 1191.8,985.9 1194.3,985.9 1196.8,986.0 1199.3,986.0 1201.8,986.0 1204.3,986.1 1206.8,986.1 1209.3,986.2 1211.8,986.2 1214.3,986.3 1216.8,986.3 1219.3,986.3 1221.8,986.4 1224.3,986.4 1226.8,986.5 1229.3,986.5 1231.8,986.5 1234.3,986.6 1236.8,986.6 1239.3,986.7 1241.8,986.7 1244.3,986.7 1246.8,986.8 1249.3,986.8 1251.8,986.9 1254.3,986.9 1256.8,986.9 1259.3,987.0 1261.8,987.0 1264.3,987.1 1266.8,987.1 1269.3,987.1 1271.8,987.2 1274.3,987.2 1276.8,987.3 1279.3,987.3 1281.8,987.3 1284.3,987.4 1286.8,987.4 1289.3,987.5 1291.8,987.5 1294.3,987.5 1296.8,987.6 1299.3,987.6 1301.8,987.7 1304.3,987.7 1306.8,987.8 1309.3,987.8 1311.8,987.9 1314.3,987.9 1316.8,988.0 1319.3,988.0 1321.8,988.1 1324.3,988.1 1326.8,988.2 1329.3,988.2 1331.8,988.3 1334.3,988.3 1336.8,988.4 1339.3,988.4 1341.7,988.5 1344.2,988.5 1346.7,988.6 1349.2,988.6 1351.7,988.7 1354.2,988.8 1356.7,988.8 1359.2,988.9 1361.7,989.0 1364.2,989.0 1366.7,989.1 1369.2,989.2 1371.7,989.2 1374.2,989.3 1376.6,989.4 1379.1,989.4 1381.6,989.5 1384.1,989.6 1386.6,989.7 1389.1,989.7 1391.6,989.8 1394.1,989.9 1396.6,990.0 1399.1,990.1 1401.5,990.1 1404.0,990.2 1406.5,990.3 1409.0,990.4 1411.5,990.5 1414.0,990.6 1416.5,990.7 1419.0,990.8"/><path id="cg" d="M241.0,129.1 243.5,129.2 246.0,129.3 248.5,129.4 251.0,129.5 253.5,129.6 255.9,129.7 258.4,129.8 260.9,129.9 263.4,129.9 265.9,130.0 268.4,130.1 270.9,130.2 273.4,130.3 275.9,130.3 278.4,130.4 280.9,130.5 283.4,130.6 285.9,130.6 288.4,130.7 290.9,130.8 293.4,130.9 295.9,131.0 298.4,131.1 300.9,131.2 303.4,131.3 305.9,131.4 308.4,131.6 310.9,131.7 313.4,131.8 315.9,132.0 318.4,132.2 320.9,132.3 323.4,132.5 325.9,132.7 328.4,132.9 330.9,133.1 333.4,133.3 335.9,133.6 338.4,133.8 340.8,134.1 343.3,134.4 345.8,134.7 348.3,135.0 350.7,135.3 353.2,135.7 355.7,136.0 358.1,136.4 360.6,136.8 363.1,137.3 365.5,137.7 368.0,138.2 370.4,138.6 372.8,139.1 375.3,139.7 377.7,140.2 380.1,140.8 382.6,141.4 385.0,142.0 387.4,142.6 389.8,143.3 392.2,144.0 394.6,144.6 397.0,145.3 399.4,146.0 401.9,146.7 404.3,147.5 406.7,148.2 409.1,148.9 411.5,149.6 413.9,150.3 416.3,151.1 418.7,151.8 421.1,152.5 423.5,153.2 425.9,153.8 428.3,154.5 430.7,155.1 433.1,155.8 435.5,156.4 438.0,157.0 440.4,157.5 442.8,158.1 445.3,158.6 447.7,159.1 450.1,159.6 452.6,160.0 455.0,160.4 457.5,160.8 460.0,161.2 462.4,161.6 464.9,161.9 467.4,162.2 469.8,162.5 472.3,162.8 474.8,163.1 477.3,163.4 479.8,163.6 482.2,163.9 484.7,164.1 487.2,164.3 489.7,164.5 492.2,164.7 494.7,164.8 497.2,165.0 499.7,165.1 502.2,165.3 504.7,165.4 507.2,165.6 509.7,165.7 512.2,165.8 514.7,165.9 517.2,166.0 519.7,166.2 522.2,166.3 524.7,166.4 527.2,166.5 529.7,166.6 532.2,166.7 534.7,166.8 537.2,166.9 539.7,167.0 542.2,167.1 544.7,167.2 547.2,167.2 549.7,167.3 552.2,167.4 554.7,167.5 557.2,167.6 559.7,167.7 562.2,167.8 564.7,167.9 567.2,168.0 569.7,168.0 572.2,168.1 574.7,168.2 577.2,168.3 579.7,168.4 582.2,168.5 584.7,168.5 587.2,168.6 589.7,168.7 592.2,168.8 594.7,168.9 597.2,169.0 599.7,169.1 602.2,169.2 604.7,169.3 607.2,169.3 609.7,169.4 612.2,169.5 614.7,169.6 617.1,169.7 619.6,169.8 622.1,169.9 624.6,170.0 627.1,170.1 629.6,170.2 632.1,170.3 634.6,170.5 637.1,170.6 639.6,170.7 642.1,170.8 644.6,170.9 647.0,171.1 649.5,171.2 652.0,171.3 654.5,171.4 657.0,171.6 659.5,171.7 662.0,171.9 664.5,172.0 666.9,172.1 669.4,172.3 671.9,172.4 674.4,172.6 676.9,172.8 679.4,172.9 681.9,173.1 684.4,173.2 686.8,173.4 689.3,173.6 691.8,173.7 694.3,173.9 696.8,174.1 699.3,174.3 701.8,174.5 704.3,174.6 706.8,174.8 709.3,175.0 711.8,175.2 714.3,175.4 716.8,175.6 719.3,175.8 721.8,176.0 724.3,176.1 726.8,176.3 729.3,176.5 731.8,176.7 734.3,176.9 736.8,177.1 739.3,177.4 741.8,177.6 744.3,177.8 746.8,178.0 749.4,178.2 751.9,178.5 754.4,178.8 756.8,179.1 759.3,179.5 761.8,179.9 764.2,180.3 766.6,180.8 769.1,181.4 771.4,182.0 773.8,182.7 776.1,183.5 778.5,184.4 780.7,185.4 783.0,186.4 785.2,187.6 787.4,188.8 789.5,190.1 791.6,191.5 793.6,192.9 795.6,194.5 797.5,196.1 799.3,197.8 801.1,199.5 802.8,201.4 804.4,203.2 806.0,205.2 807.4,207.2 808.8,209.2 810.1,211.3 811.3,213.5 812.4,215.7 813.4,217.9 814.4,220.2 815.3,222.5 816.1,224.9 816.9,227.3 817.6,229.7 818.3,232.1 818.9,234.5 819.5,237.0 820.0,239.5 820.6,242.0 821.1,244.5 821.5,247.0 822.0,249.5 822.5,252.0 822.9,254.5 823.4,257.0 823.8,259.4 824.2,261.9 824.6,264.4 825.0,266.9 825.4,269.4 825.8,271.8 826.2,274.3 826.6,276.8 827.0,279.3 827.4,281.7 827.7,284.2 828.1,286.7 828.5,289.1 828.8,291.6 829.2,294.1 829.5,296.5 829.9,299.0 830.2,301.5 830.5,303.9 830.9,306.4 831.2,308.9 831.5,311.3 831.9,313.8 832.2,316.3 832.5,318.7 832.8,321.2 833.1,323.7 833.4,326.2 833.7,328.6 834.0,331.1 834.3,333.6 834.6,336.1 834.9,338.5 835.2,341.0 835.5,343.5 835.8,346.0 836.1,348.4 836.3,350.9 836.6,353.4 836.9,355.9 837.2,358.3 837.4,360.8 837.7,363.3 838.0,365.8 838.2,368.3 838.5,370.7 838.7,373.2 839.0,375.7 839.2,378.2 839.5,380.7 839.7,383.2 840.0,385.6 840.2,388.1 840.4,390.6 840.7,393.1 840.9,395.6 841.1,398.1 841.4,400.5 841.6,403.0 841.8,405.5 842.0,408.0 842.3,410.5 842.5,413.0 842.7,415.5 842.9,417.9 843.1,420.4 843.3,422.9 843.5,425.4 843.7,427.9 843.9,430.4 844.1,432.9 844.3,435.4 844.5,437.9 844.7,440.3 844.9,442.8 845.1,445.3 845.3,447.8 845.5,450.3 845.7,452.8 845.9,455.3 846.0,457.8 846.2,460.3 846.4,462.8 846.6,465.3 846.7,467.8 846.9,470.2 847.1,472.7 847.3,475.2 847.4,477.7 847.6,480.2 847.8,482.7 847.9,485.2 848.1,487.7 848.3,490.2 848.4,492.7 848.6,495.2 848.7,497.7 848.9,500.2 849.0,502.7 849.2,505.2 849.3,507.7 849.5,510.2 849.6,512.7 849.8,515.2 849.9,517.7 850.1,520.1 850.2,522.6 850.4,525.1 850.5,527.6 850.7,530.1 850.8,532.6 850.9,535.1 851.1,537.6 851.2,540.1 851.3,542.6 851.5,545.1 851.6,547.6 851.8,550.1 851.9,552.6 852.0,555.1 852.2,557.6 852.3,560.1 852.4,562.6 852.5,565.1 852.7,567.6 852.8,570.1 852.9,572.6 853.1,575.1 853.2,577.6 853.3,580.1 853.4,582.6 853.6,585.1 853.7,587.6 853.8,590.1 853.9,592.6 854.1,595.1 854.2,597.6 854.3,600.1 854.4,602.6 854.5,605.1 854.7,607.6 854.8,610.1 854.9,612.6 855.0,615.1 855.2,617.6 855.3,620.1 855.4,622.6 855.5,625.1 855.6,627.6 855.8,630.1 855.9,632.6 856.0,635.1 856.1,637.6 856.2,640.1 856.4,642.6 856.5,645.1 856.6,647.6 856.7,650.1 856.8,652.6 857.0,655.1 857.1,657.6 857.2,660.1 857.3,662.5 857.5,665.0 857.6,667.5 857.7,670.0 857.8,672.5 858.0,675.0 858.1,677.5 858.2,680.0 858.3,682.5 858.5,685.0 858.6,687.5 858.7,690.0 858.8,692.5 859.0,695.0 859.1,697.5 859.2,700.0 859.4,702.5 859.5,705.0 859.6,707.5 859.7,710.0 859.9,712.5 860.0,715.0 860.2,717.4 860.3,719.9 860.4,722.4 860.6,724.9 860.7,727.4 860.8,729.9 861.0,732.4 861.1,734.9 861.3,737.4 861.4,739.9 861.5,742.4 861.7,744.9 861.8,747.3 862.0,749.8 862.1,752.3 862.3,754.8 862.4,757.3 862.6,759.8 862.7,762.3 862.9,764.8 863.1,767.3 863.2,769.7 863.4,772.2 863.5,774.7 863.7,777.2 863.8,779.7 864.0,782.2 864.2,784.7 864.3,787.2 864.5,789.6 864.6,792.1 864.8,794.6 865.0,797.1 865.1,799.6 865.3,802.1 865.4,804.6 865.6,807.1 865.8,809.6 865.9,812.0 866.1,814.5 866.2,817.0 866.4,819.5 866.6,822.0 866.7,824.5 866.9,827.0 867.0,829.5 867.2,832.0 867.3,834.4 867.5,836.9 867.6,839.4 867.8,841.9 868.0,844.4 868.1,846.9 868.3,849.4 868.4,851.9 868.6,854.4 868.7,856.9 868.8,859.4 869.0,861.9 869.1,864.4 869.3,866.9 869.4,869.4 869.6,871.9 869.7,874.4 869.8,876.9 870.0,879.4 870.1,881.9 870.2,884.4 870.4,886.9 870.5,889.4 870.6,891.9 870.7,894.4 870.8,896.9 871.0,899.4 871.1,901.9 871.2,904.4 871.3,906.9 871.4,909.4 871.5,912.0 871.6,914.5 871.7,917.0 871.9,919.5 872.0,922.0 872.1,924.5 872.3,927.0 872.4,929.5 872.6,932.0 872.8,934.5 873.0,937.0 873.3,939.5 873.6,942.0 873.9,944.5 874.2,947.0 874.6,949.5 875.1,951.9 875.5,954.4 876.1,956.8 876.6,959.3 877.3,961.7 877.9,964.2 878.7,966.6 879.5,968.9 880.4,971.2 881.4,973.5 882.5,975.6 883.7,977.7 885.0,979.6 886.5,981.4 888.1,983.0 889.9,984.5 891.8,985.8 893.9,986.8 896.1,987.7 898.5,988.3 901.1,988.8 903.7,989.1 906.3,989.4 909.0,989.5 911.7,989.6 914.3,989.6 916.9,989.6 919.5,989.6 922.1,989.5 924.6,989.5 927.1,989.4 929.7,989.4 932.2,989.4 934.7,989.4 937.2,989.4 939.6,989.4 942.1,989.5 944.6,989.7 947.1,989.8 949.6,990.0 952.1,990.2 954.5,990.3 957.0,990.5 959.5,990.8 962.0,991.0 964.5,991.1 966.9,991.3 969.4,991.5 971.9,991.7 974.4,991.9 976.9,992.1 979.3,992.2 981.8,992.4 984.3,992.6 986.8,992.7 989.3,992.9 991.8,993.0 994.3,993.2 996.7,993.3 999.2,993.4 1001.7,993.6 1004.2,993.7 1006.7,993.8 1009.2,994.0 1011.7,994.1 1014.2,994.2 1016.7,994.3 1019.1,994.4 1021.6,994.5 1024.1,994.6 1026.6,994.7 1029.1,994.8 1031.6,994.9 1034.1,995.0 1036.6,995.1 1039.1,995.2 1041.6,995.2 1044.1,995.3 1046.6,995.4 1049.1,995.5 1051.6,995.5 1054.1,995.6 1056.6,995.7 1059.1,995.7 1061.6,995.8 1064.1,995.8 1066.6,995.9 1069.1,995.9 1071.6,996.0 1074.1,996.0 1076.6,996.1 1079.1,996.1 1081.6,996.1 1084.1,996.2 1086.6,996.2 1089.1,996.2 1091.6,996.3 1094.1,996.3 1096.6,996.3 1099.1,996.4 1101.6,996.4 1104.1,996.4 1106.6,996.4 1109.1,996.4 1111.6,996.4 1114.1,996.5 1116.6,996.5 1119.1,996.5 1121.6,996.5 1124.1,996.5 1126.6,996.5 1129.1,996.5 1131.6,996.5 1134.1,996.5 1136.6,996.5 1139.2,996.5 1141.7,996.5 1144.2,996.5 1146.7,996.5 1149.2,996.5 1151.7,996.5 1154.2,996.5 1156.7,996.5 1159.2,996.5 1161.7,996.5 1164.2,996.4 1166.7,996.4 1169.2,996.4 1171.7,996.4 1174.2,996.4 1176.8,996.4 1179.3,996.4 1181.8,996.4 1184.3,996.3 1186.8,996.3 1189.3,996.3 1191.8,996.3 1194.3,996.3 1196.8,996.3 1199.3,996.3 1201.8,996.2 1204.3,996.2 1206.8,996.2 1209.3,996.2 1211.9,996.2 1214.4,996.2 1216.9,996.1 1219.4,996.1 1221.9,996.1 1224.4,996.1 1226.9,996.1 1229.4,996.1 1231.9,996.1 1234.4,996.1 1236.9,996.0 1239.4,996.0 1241.9,996.0 1244.4,996.0 1246.9,996.0 1249.4,996.0 1251.9,996.0 1254.5,996.0 1257.0,996.0 1259.5,996.0 1262.0,996.0 1264.5,996.0 1267.0,996.0 1269.5,996.0 1272.0,996.0 1274.5,996.0 1277.0,996.0 1279.5,996.0 1282.0,996.0 1284.5,996.0 1287.0,996.1 1289.5,996.1 1292.0,996.1 1294.5,996.1 1297.0,996.1 1299.5,996.2 1302.0,996.2 1304.5,996.2 1307.0,996.2 1309.5,996.3 1312.0,996.3 1314.5,996.3 1317.0,996.4 1319.5,996.4 1322.0,996.4 1324.5,996.5 1327.0,996.5 1329.5,996.6 1332.0,996.6 1334.5,996.7 1337.0,996.7 1339.5,996.8 1341.9,996.9 1344.4,996.9 1346.9,997.0 1349.4,997.0 1351.9,997.1 1354.4,997.2 1356.9,997.3 1359.4,997.4 1361.9,997.4 1364.4,997.5 1366.9,997.6 1369.3,997.7 1371.8,997.8 1374.3,997.9 1376.8,998.0 1379.3,998.1 1381.8,998.2 1384.3,998.3 1386.8,998.4 1389.2,998.6 1391.7,998.7 1394.2,998.8 1396.7,998.9 1399.2,999.1 1401.6,999.2 1404.1,999.4 1406.6,999.5 1409.1,999.7 1411.6,999.8 1414.0,1000.0 1416.5,1000.1 1419.0,1000.3"/></defs>
<rect x="225" y="35" width="197" height="0" fill="none"/>
<rect x="230.5" y="38" width="1.6" height="987" fill="#333"/>
<rect x="232.1" y="38" width="3.6" height="987" fill="#000"/>
<rect x="1416.8" y="38" width="4.9" height="987" fill="#000"/>
<rect x="225" y="35" width="1197" height="2.8" fill="#5c5e66"/>
<rect x="225" y="37.8" width="1197" height="2.8" fill="#000"/>
<rect x="214" y="1020" width="1207.7" height="5" fill="#000"/>
<rect x="214" y="1020.0" width="18" height="5" fill="#000"/>
<rect x="214" y="841.1" width="18" height="5" fill="#000"/>
<rect x="214" y="662.1" width="18" height="5" fill="#000"/>
<rect x="214" y="483.2" width="18" height="5" fill="#000"/>
<rect x="214" y="304.2" width="18" height="5" fill="#000"/>
<rect x="214" y="125.3" width="18" height="5" fill="#000"/>
<rect x="225" y="930.5" width="7" height="5" fill="#000"/>
<rect x="225" y="751.6" width="7" height="5" fill="#000"/>
<rect x="225" y="572.6" width="7" height="5" fill="#000"/>
<rect x="225" y="393.7" width="7" height="5" fill="#000"/>
<rect x="225" y="214.8" width="7" height="5" fill="#000"/>
<rect x="369.9" y="1024" width="5" height="15" fill="#000"/>
<rect x="553.5" y="1024" width="5" height="15" fill="#000"/>
<rect x="737.2" y="1024" width="5" height="15" fill="#000"/>
<rect x="920.9" y="1024" width="5" height="15" fill="#000"/>
<rect x="1104.5" y="1024" width="5" height="15" fill="#000"/>
<rect x="1288.2" y="1024" width="5" height="15" fill="#000"/>
<rect x="278.0" y="1024" width="5" height="6.7" fill="#000"/>
<rect x="461.7" y="1024" width="5" height="6.7" fill="#000"/>
<rect x="645.4" y="1024" width="5" height="6.7" fill="#000"/>
<rect x="829.0" y="1024" width="5" height="6.7" fill="#000"/>
<rect x="1012.7" y="1024" width="5" height="6.7" fill="#000"/>
<rect x="1196.4" y="1024" width="5" height="6.7" fill="#000"/>
<rect x="1380.0" y="1024" width="5" height="6.7" fill="#000"/>
<rect x="281" y="752.6" width="91" height="2.6" fill="#575a60"/>
<rect x="278.6" y="755.1" width="93.5" height="2.7" fill="#000"/>
<rect x="321.8" y="752.6" width="7.5" height="5.2" fill="#000"/>
<rect x="321.8" y="757.8" width="7.5" height="2.4" fill="#8a8e98"/>
<rect x="278.6" y="804" width="93.5" height="5.7" fill="#ff0000"/>
<rect x="281" y="853.1" width="91" height="2.8" fill="#9274ee"/>
<rect x="278.6" y="855.9" width="93.5" height="3.1" fill="#0000ff"/>
<rect x="324" y="853.1" width="3" height="3" fill="#0000ff"/>
<rect x="321.2" y="859" width="8.3" height="2.6" fill="#9aaee8"/>
<rect x="278.6" y="905.1" width="93.5" height="5.4" fill="#ff00ff"/>
<rect x="323.5" y="910.5" width="3" height="2.5" fill="#ff55ff"/>
<rect x="281" y="954" width="91" height="2.6" fill="#92c892"/>
<rect x="278.6" y="956.6" width="93.5" height="3.4" fill="#006e00"/>
<rect x="324" y="954" width="2.9" height="8.8" fill="#007a00"/>
<rect x="1328.5" y="78.8" width="55.5" height="68" fill="#fff" stroke="#000" stroke-width="5"/>
<g clip-path="url(#pc)">
<path d="M243.8,136.4 245.3,136.9 246.8,137.5 248.3,138.0 249.8,138.6 251.3,139.3 252.8,139.9 254.3,140.6 255.8,141.3 257.3,142.1 258.8,142.8 260.3,143.6 261.8,144.4 263.3,145.3 264.8,146.1 266.3,147.0 267.8,147.8 269.3,148.7 270.8,149.6 272.3,150.5 273.8,151.4 275.3,152.3 276.8,153.3 278.3,154.2 279.8,155.1 281.3,156.0 282.8,156.9 284.3,157.8 285.8,158.7 287.3,159.6 288.8,160.5 290.3,161.4 291.8,162.2 293.3,163.1 294.8,163.9 296.3,164.7 297.8,165.5 299.3,166.3 300.8,167.0 302.3,167.7 303.8,168.5 305.3,169.2 306.8,169.8 308.3,170.5 309.8,171.2 311.3,171.8 312.8,172.4 314.3,173.0 315.8,173.6 317.3,174.2 318.8,174.8 320.3,175.3 321.8,175.9 323.3,176.4 324.8,176.9 326.3,177.4 327.8,177.9 329.3,178.4 330.8,178.9 332.3,179.4 333.8,179.8 335.3,180.3 336.8,180.7 338.3,181.2 339.8,181.6 341.3,182.0 342.8,182.4 344.3,182.8 345.8,183.2 347.3,183.6 348.8,184.0 350.3,184.4 351.8,184.8 353.3,185.1 354.8,185.5 356.3,185.9 357.8,186.2 359.3,186.6 360.8,186.9 362.3,187.2 363.8,187.6 365.3,187.9 366.8,188.2 368.3,188.5 369.8,188.8 371.3,189.2 372.8,189.5 374.3,189.8 375.8,190.1 377.3,190.4 378.8,190.7 380.3,191.0 381.8,191.3 383.3,191.6 384.8,191.9 386.3,192.1 387.8,192.4 389.3,192.7 390.8,193.0 392.3,193.3 393.8,193.6 395.3,193.9 396.8,194.2 398.3,194.5 399.8,194.7 401.3,195.0 402.8,195.3 404.3,195.6 405.8,195.9 407.3,196.2 408.8,196.5 410.3,196.8 411.8,197.1 413.3,197.4 414.8,197.8 416.3,198.1 417.8,198.4 419.3,198.7 420.8,199.0 422.3,199.4 423.8,199.7 425.3,200.1 426.8,200.4 428.3,200.8 429.8,201.1 431.3,201.5 432.8,201.8 434.3,202.2 435.8,202.6 437.3,203.0 438.8,203.4 440.3,203.8 441.8,204.2 443.3,204.6 444.8,205.0 446.3,205.4 447.8,205.9 449.3,206.3 450.8,206.8 452.3,207.2 453.8,207.7 455.3,208.2 456.8,208.6 458.3,209.1 459.8,209.6 461.3,210.1 462.8,210.7 464.3,211.2 465.8,211.7 467.3,212.3 468.8,212.8 470.3,213.4 471.8,214.0 473.3,214.6 474.8,215.2 476.3,215.8 477.8,216.4 479.3,217.0 480.8,217.7 482.3,218.4 483.8,219.0 485.3,219.7 486.8,220.4 488.3,221.1 489.8,221.8 491.3,222.5 492.8,223.3 494.3,224.0 495.8,224.8 497.3,225.6 498.8,226.4 500.3,227.2 501.8,228.0 503.3,228.9 504.8,229.7 506.3,230.6 507.8,231.5 509.3,232.4 510.8,233.3 512.3,234.2 513.8,235.1 515.3,236.1 516.8,237.1 518.3,238.0 519.8,239.0 521.3,240.1 522.8,241.1 524.3,242.1 525.8,243.2 527.3,244.3 528.8,245.3 530.3,246.5 531.8,247.6 533.3,248.7 534.8,249.9 536.3,251.0 537.8,252.2 539.3,253.4 540.8,254.6 542.3,255.9 543.8,257.1 545.3,258.4 546.8,259.7 548.3,261.0 549.8,262.3 551.3,263.6 552.8,265.0 554.3,266.4 555.8,267.7 557.3,269.1 558.8,270.5 560.3,272.0 561.8,273.4 563.3,274.8 564.8,276.3 566.3,277.8 567.8,279.3 569.3,280.7 570.8,282.2 572.3,283.7 573.8,285.2 575.3,286.8 576.8,288.3 578.3,289.8 579.8,291.3 581.3,292.9 582.8,294.4 584.3,295.9 585.8,297.5 587.3,299.0 588.8,300.6 590.3,302.1 591.8,303.6 593.3,305.2 594.8,306.7 596.3,308.2 597.8,309.7 599.3,311.2 600.8,312.8 602.3,314.3 603.8,315.7 605.3,317.2 606.8,318.7 608.3,320.2 609.8,321.6 611.3,323.1 612.8,324.5 614.3,325.9 615.8,327.4 617.3,328.8 618.8,330.1 620.3,331.5 621.8,332.9 623.3,334.2 624.8,335.5 626.3,336.8 627.8,338.1 629.3,339.4 630.8,340.6 632.3,341.8 633.8,343.1 635.3,344.2 636.8,345.4 638.3,346.5 639.8,347.7 641.3,348.8 642.8,349.8 644.3,350.9 645.8,351.9 647.3,352.9 648.8,353.8 650.3,354.8 651.8,355.7 653.3,356.6 654.8,357.4 656.3,358.3 657.8,359.1 659.3,359.8 660.8,360.6 662.3,361.3 663.8,362.0 665.3,362.7 666.8,363.4 668.3,364.1 669.8,364.8 671.3,365.4 672.8,366.1 674.3,366.7 675.8,367.4 677.3,368.0 678.8,368.6 680.3,369.3 681.8,369.9 683.3,370.6 684.8,371.2 686.3,371.9 687.8,372.5 689.3,373.2 690.8,373.9 692.3,374.5 693.8,375.2 695.3,375.9 696.8,376.6 698.3,377.3 699.8,378.0 701.3,378.7 702.8,379.4 704.3,380.1 705.8,380.8 707.3,381.6 708.8,382.3 710.3,383.1 711.8,383.8 713.3,384.6 714.8,385.3 716.3,386.1 717.8,386.9 719.3,387.7 720.8,388.5 722.3,389.3 723.8,390.1 725.3,390.9 726.8,391.8 728.3,392.6 729.8,393.4 731.3,394.3 732.8,395.2 734.3,396.0 735.8,396.9 737.3,397.8 738.8,398.7 740.3,399.7 741.8,400.6 743.3,401.5 744.8,402.5 746.3,403.4 747.8,404.4 749.3,405.3 750.8,406.3 752.3,407.3 753.8,408.3 755.3,409.3 756.8,410.3 758.3,411.3 759.8,412.3 761.3,413.3 762.8,414.3 764.3,415.4 765.8,416.4 767.3,417.4 768.8,418.5 770.3,419.6 771.8,420.6 773.3,421.7 774.8,422.7 776.3,423.8 777.8,424.9 779.3,426.0 780.8,427.0 782.3,428.1 783.8,429.2 785.3,430.3 786.8,431.4 788.3,432.5 789.8,433.6 791.3,434.7 792.8,435.8 794.3,436.9 795.8,438.0 797.3,439.1 798.8,440.2 800.3,441.3 801.8,442.4 803.3,443.5 804.8,444.6 806.3,445.8 807.8,446.9 809.3,448.1 810.8,449.2 812.3,450.4 813.8,451.6 815.3,452.8 816.8,454.1 818.3,455.3 819.8,456.6 821.3,458.0 822.8,459.3 824.3,460.7 825.8,462.1 827.3,463.5 828.8,465.0 830.3,466.5 831.8,468.0 833.3,469.6 834.8,471.1 836.3,472.7 837.8,474.4 839.3,476.0 840.8,477.6 842.3,479.3 843.8,481.0 845.3,482.6 846.8,484.3 848.3,486.0 849.8,487.7 851.3,489.4 852.8,491.1 854.3,492.8 855.8,494.5 857.3,496.2 858.8,497.9 860.3,499.5 861.8,501.2 863.3,502.8 864.8,504.5 866.3,506.1 867.8,507.7 869.3,509.3 870.8,510.8 872.3,512.4 873.8,513.9 875.3,515.4 876.8,516.9 878.3,518.4 879.8,519.9 881.3,521.3 882.8,522.8 884.3,524.2 885.8,525.7 887.3,527.1 888.8,528.5 890.3,529.9 891.8,531.3 893.3,532.7 894.8,534.1 896.3,535.5 897.8,536.9 899.3,538.3 900.8,539.7 902.3,541.1 903.8,542.5 905.3,543.8 906.8,545.2 908.3,546.6 909.8,548.0 911.3,549.4 912.8,550.8 914.3,552.1 915.8,553.5 917.3,554.8 918.8,556.2 920.3,557.5 921.8,558.9 923.3,560.2 924.8,561.5 926.3,562.8 927.8,564.1 929.3,565.4 930.8,566.6 932.3,567.9 933.8,569.1 935.3,570.3 936.8,571.5 938.3,572.7 939.8,573.8 941.3,575.0 942.8,576.1 944.3,577.2 945.8,578.3 947.3,579.4 948.8,580.5 950.3,581.5 951.8,582.6 953.3,583.6 954.8,584.6 956.3,585.7 957.8,586.7 959.3,587.6 960.8,588.6 962.3,589.6 963.8,590.5 965.3,591.5 966.8,592.4 968.3,593.3 969.8,594.2 971.3,595.1 972.8,596.0 974.3,596.8 975.8,597.7 977.3,598.6 978.8,599.4 980.3,600.2 981.8,601.1 983.3,601.9 984.8,602.7 986.3,603.5 987.8,604.3 989.3,605.1 990.8,605.8 992.3,606.6 993.8,607.4 995.3,608.1 996.8,608.9 998.3,609.6 999.8,610.4 1001.3,611.1 1002.8,611.8 1004.3,612.5 1005.8,613.2 1007.3,613.9 1008.8,614.6 1010.3,615.3 1011.8,616.0 1013.3,616.6 1014.8,617.3 1016.3,618.0 1017.8,618.6 1019.3,619.3 1020.8,619.9 1022.3,620.5 1023.8,621.2 1025.3,621.8 1026.8,622.4 1028.3,623.0 1029.8,623.6 1031.3,624.2 1032.8,624.8 1034.3,625.4 1035.8,626.0 1037.3,626.6 1038.8,627.1 1040.3,627.7 1041.8,628.3 1043.3,628.8 1044.8,629.4 1046.3,629.9 1047.8,630.4 1049.3,631.0 1050.8,631.5 1052.3,632.0 1053.8,632.6 1055.3,633.1 1056.8,633.6 1058.3,634.1 1059.8,634.6 1061.3,635.1 1062.8,635.6 1064.3,636.1 1065.8,636.6 1067.3,637.1 1068.8,637.6 1070.3,638.0 1071.8,638.5 1073.3,639.0 1074.8,639.4 1076.3,639.9 1077.8,640.4 1079.3,640.8 1080.8,641.3 1082.3,641.7 1083.8,642.2 1085.3,642.6 1086.8,643.1 1088.3,643.5 1089.8,643.9 1091.3,644.4 1092.8,644.8 1094.3,645.2 1095.8,645.6 1097.3,646.1 1098.8,646.5 1100.3,646.9 1101.8,647.3 1103.3,647.7 1104.8,648.1 1106.3,648.6 1107.8,649.0 1109.3,649.4 1110.8,649.8 1112.3,650.2 1113.8,650.6 1115.3,651.0 1116.8,651.4 1118.3,651.8 1119.8,652.2 1121.3,652.5 1122.8,652.9 1124.3,653.3 1125.8,653.7 1127.3,654.1 1128.8,654.5 1130.3,654.9 1131.8,655.3 1133.3,655.6 1134.8,656.0 1136.3,656.4 1137.8,656.8 1139.3,657.2 1140.8,657.5 1142.3,657.9 1143.8,658.3 1145.3,658.6 1146.8,659.0 1148.3,659.4 1149.8,659.8 1151.3,660.1 1152.8,660.5 1154.3,660.9 1155.8,661.2 1157.3,661.6 1158.8,661.9 1160.3,662.3 1161.8,662.6 1163.3,663.0 1164.8,663.4 1166.3,663.7 1167.8,664.1 1169.3,664.4 1170.8,664.8 1172.3,665.1 1173.8,665.5 1175.3,665.8 1176.8,666.1 1178.3,666.5 1179.8,666.8 1181.3,667.2 1182.8,667.5 1184.3,667.8 1185.8,668.2 1187.3,668.5 1188.8,668.8 1190.3,669.2 1191.8,669.5 1193.3,669.8 1194.8,670.1 1196.3,670.5 1197.8,670.8 1199.3,671.1 1200.8,671.4 1202.3,671.8 1203.8,672.1 1205.3,672.4 1206.8,672.7 1208.3,673.0 1209.8,673.3 1211.3,673.6 1212.8,674.0 1214.3,674.3 1215.8,674.6 1217.3,674.9 1218.8,675.2 1220.3,675.5 1221.8,675.8 1223.3,676.1 1224.8,676.4 1226.3,676.7 1227.8,677.0 1229.3,677.3 1230.8,677.6 1232.3,677.8 1233.8,678.1 1235.3,678.4 1236.8,678.7 1238.3,679.0 1239.8,679.3 1241.3,679.6 1242.8,679.8 1244.3,680.1 1245.8,680.4 1247.3,680.7 1248.8,681.0 1250.3,681.2 1251.8,681.5 1253.3,681.8 1254.8,682.0 1256.3,682.3 1257.8,682.6 1259.3,682.8 1260.8,683.1 1262.3,683.4 1263.8,683.6 1265.3,683.9 1266.8,684.1 1268.3,684.4 1269.8,684.7 1271.3,684.9 1272.8,685.2 1274.3,685.4 1275.8,685.7 1277.3,685.9 1278.8,686.2 1280.3,686.4 1281.8,686.6 1283.3,686.9 1284.8,687.1 1286.3,687.4 1287.8,687.6 1289.3,687.8 1290.8,688.1 1292.3,688.3 1293.8,688.5 1295.3,688.8 1296.8,689.0 1298.3,689.2 1299.8,689.5 1301.3,689.7 1302.8,689.9 1304.3,690.1 1305.8,690.3 1307.3,690.6 1308.8,690.8 1310.3,691.0 1311.8,691.2 1313.3,691.4 1314.8,691.6 1316.3,691.8 1317.8,692.0 1319.3,692.2 1320.8,692.5 1322.3,692.7 1323.8,692.9 1325.3,693.1 1326.8,693.3 1328.3,693.5 1329.8,693.6 1331.3,693.8 1332.8,694.0 1334.3,694.2 1335.8,694.4 1337.3,694.6 1338.8,694.8 1340.3,695.0 1341.8,695.2 1343.3,695.3 1344.8,695.5 1346.3,695.7 1347.8,695.9 1349.3,696.1 1350.8,696.2 1352.3,696.4 1353.8,696.6 1355.3,696.7 1356.8,696.9 1358.3,697.1 1359.8,697.2 1361.3,697.4 1362.8,697.6 1364.3,697.7 1365.8,697.9 1367.3,698.0 1368.8,698.2 1370.3,698.4 1371.8,698.5 1373.3,698.7 1374.8,698.8 1376.3,699.0 1377.8,699.1 1379.3,699.3 1380.8,699.4 1382.3,699.5 1383.8,699.7 1385.3,699.8 1386.8,700.0 1388.3,700.1 1389.8,700.2 1391.3,700.4 1392.8,700.5 1394.3,700.6 1395.8,700.7 1397.3,700.9 1398.8,701.0 1400.3,701.1 1401.8,701.2 1403.3,701.4 1404.8,701.5 1406.3,701.6 1407.8,701.7 1409.3,701.8 1410.8,701.9 1412.3,702.0 1413.8,702.2 1415.3,702.3 1416.8,702.4 1418.3,702.5 1419.8,702.6 1421.3,702.7 1421.8,702.7 1416.2,709.5 1415.7,709.5 1414.2,709.4 1412.7,709.3 1411.2,709.2 1409.7,709.1 1408.2,709.0 1406.7,708.8 1405.2,708.7 1403.7,708.6 1402.2,708.5 1400.7,708.4 1399.2,708.3 1397.7,708.2 1396.2,708.0 1394.7,707.9 1393.2,707.8 1391.7,707.7 1390.2,707.5 1388.7,707.4 1387.2,707.3 1385.7,707.2 1384.2,707.0 1382.7,706.9 1381.2,706.8 1379.7,706.6 1378.2,706.5 1376.7,706.3 1375.2,706.2 1373.7,706.1 1372.2,705.9 1370.7,705.8 1369.2,705.6 1367.7,705.5 1366.2,705.3 1364.7,705.2 1363.2,705.0 1361.7,704.8 1360.2,704.7 1358.7,704.5 1357.2,704.4 1355.7,704.2 1354.2,704.0 1352.7,703.9 1351.2,703.7 1349.7,703.5 1348.2,703.4 1346.7,703.2 1345.2,703.0 1343.7,702.9 1342.2,702.7 1340.7,702.5 1339.2,702.3 1337.7,702.1 1336.2,702.0 1334.7,701.8 1333.2,701.6 1331.7,701.4 1330.2,701.2 1328.7,701.0 1327.2,700.8 1325.7,700.6 1324.2,700.4 1322.7,700.3 1321.2,700.1 1319.7,699.9 1318.2,699.7 1316.7,699.5 1315.2,699.3 1313.7,699.0 1312.2,698.8 1310.7,698.6 1309.2,698.4 1307.7,698.2 1306.2,698.0 1304.7,697.8 1303.2,697.6 1301.7,697.4 1300.2,697.1 1298.7,696.9 1297.2,696.7 1295.7,696.5 1294.2,696.3 1292.7,696.0 1291.2,695.8 1289.7,695.6 1288.2,695.3 1286.7,695.1 1285.2,694.9 1283.7,694.6 1282.2,694.4 1280.7,694.2 1279.2,693.9 1277.7,693.7 1276.2,693.4 1274.7,693.2 1273.2,693.0 1271.7,692.7 1270.2,692.5 1268.7,692.2 1267.2,692.0 1265.7,691.7 1264.2,691.5 1262.7,691.2 1261.2,690.9 1259.7,690.7 1258.2,690.4 1256.7,690.2 1255.2,689.9 1253.7,689.6 1252.2,689.4 1250.7,689.1 1249.2,688.8 1247.7,688.6 1246.2,688.3 1244.7,688.0 1243.2,687.8 1241.7,687.5 1240.2,687.2 1238.7,686.9 1237.2,686.6 1235.7,686.4 1234.2,686.1 1232.7,685.8 1231.2,685.5 1229.7,685.2 1228.2,684.9 1226.7,684.6 1225.2,684.4 1223.7,684.1 1222.2,683.8 1220.7,683.5 1219.2,683.2 1217.7,682.9 1216.2,682.6 1214.7,682.3 1213.2,682.0 1211.7,681.7 1210.2,681.4 1208.7,681.1 1207.2,680.8 1205.7,680.4 1204.2,680.1 1202.7,679.8 1201.2,679.5 1199.7,679.2 1198.2,678.9 1196.7,678.6 1195.2,678.2 1193.7,677.9 1192.2,677.6 1190.7,677.3 1189.2,676.9 1187.7,676.6 1186.2,676.3 1184.7,676.0 1183.2,675.6 1181.7,675.3 1180.2,675.0 1178.7,674.6 1177.2,674.3 1175.7,674.0 1174.2,673.6 1172.7,673.3 1171.2,672.9 1169.7,672.6 1168.2,672.3 1166.7,671.9 1165.2,671.6 1163.7,671.2 1162.2,670.9 1160.7,670.5 1159.2,670.2 1157.7,669.8 1156.2,669.4 1154.7,669.1 1153.2,668.7 1151.7,668.4 1150.2,668.0 1148.7,667.7 1147.2,667.3 1145.7,666.9 1144.2,666.6 1142.7,666.2 1141.2,665.8 1139.7,665.4 1138.2,665.1 1136.7,664.7 1135.2,664.3 1133.7,664.0 1132.2,663.6 1130.7,663.2 1129.2,662.8 1127.7,662.4 1126.2,662.1 1124.7,661.7 1123.2,661.3 1121.7,660.9 1120.2,660.5 1118.7,660.1 1117.2,659.7 1115.7,659.3 1114.2,659.0 1112.7,658.6 1111.2,658.2 1109.7,657.8 1108.2,657.4 1106.7,657.0 1105.2,656.6 1103.7,656.2 1102.2,655.8 1100.7,655.4 1099.2,654.9 1097.7,654.5 1096.2,654.1 1094.7,653.7 1093.2,653.3 1091.7,652.9 1090.2,652.4 1088.7,652.0 1087.2,651.6 1085.7,651.2 1084.2,650.7 1082.7,650.3 1081.2,649.9 1079.7,649.4 1078.2,649.0 1076.7,648.5 1075.2,648.1 1073.7,647.6 1072.2,647.2 1070.7,646.7 1069.2,646.2 1067.7,645.8 1066.2,645.3 1064.7,644.8 1063.2,644.4 1061.7,643.9 1060.2,643.4 1058.7,642.9 1057.2,642.4 1055.7,641.9 1054.2,641.4 1052.7,640.9 1051.2,640.4 1049.7,639.9 1048.2,639.4 1046.7,638.8 1045.2,638.3 1043.7,637.8 1042.2,637.2 1040.7,636.7 1039.2,636.2 1037.7,635.6 1036.2,635.1 1034.7,634.5 1033.2,633.9 1031.7,633.4 1030.2,632.8 1028.7,632.2 1027.2,631.6 1025.7,631.0 1024.2,630.4 1022.7,629.8 1021.2,629.2 1019.7,628.6 1018.2,628.0 1016.7,627.3 1015.2,626.7 1013.7,626.1 1012.2,625.4 1010.7,624.8 1009.2,624.1 1007.7,623.4 1006.2,622.8 1004.7,622.1 1003.2,621.4 1001.7,620.7 1000.2,620.0 998.7,619.3 997.2,618.6 995.7,617.9 994.2,617.2 992.7,616.4 991.2,615.7 989.7,614.9 988.2,614.2 986.7,613.4 985.2,612.6 983.7,611.9 982.2,611.1 980.7,610.3 979.2,609.5 977.7,608.7 976.2,607.9 974.7,607.0 973.2,606.2 971.7,605.4 970.2,604.5 968.7,603.6 967.2,602.8 965.7,601.9 964.2,601.0 962.7,600.1 961.2,599.2 959.7,598.3 958.2,597.3 956.7,596.4 955.2,595.4 953.7,594.4 952.2,593.5 950.7,592.5 949.2,591.4 947.7,590.4 946.2,589.4 944.7,588.3 943.2,587.3 941.7,586.2 940.2,585.1 938.7,584.0 937.2,582.9 935.7,581.8 934.2,580.6 932.7,579.5 931.2,578.3 929.7,577.1 928.2,575.9 926.7,574.7 925.2,573.4 923.7,572.2 922.2,570.9 920.7,569.6 919.2,568.3 917.7,567.0 916.2,565.7 914.7,564.3 913.2,563.0 911.7,561.6 910.2,560.3 908.7,558.9 907.2,557.6 905.7,556.2 904.2,554.8 902.7,553.4 901.2,552.0 899.7,550.6 898.2,549.3 896.7,547.9 895.2,546.5 893.7,545.1 892.2,543.7 890.7,542.3 889.2,540.9 887.7,539.5 886.2,538.1 884.7,536.7 883.2,535.3 881.7,533.9 880.2,532.5 878.7,531.0 877.2,529.6 875.7,528.1 874.2,526.7 872.7,525.2 871.2,523.7 869.7,522.2 868.2,520.7 866.7,519.2 865.2,517.6 863.7,516.1 862.2,514.5 860.7,512.9 859.2,511.3 857.7,509.6 856.2,508.0 854.7,506.3 853.2,504.7 851.7,503.0 850.2,501.3 848.7,499.6 847.2,497.9 845.7,496.2 844.2,494.5 842.7,492.8 841.2,491.1 839.7,489.4 838.2,487.8 836.7,486.1 835.2,484.4 833.7,482.8 832.2,481.2 830.7,479.5 829.2,477.9 827.7,476.4 826.2,474.8 824.7,473.3 823.2,471.8 821.7,470.3 820.2,468.9 818.7,467.5 817.2,466.1 815.7,464.8 814.2,463.4 812.7,462.1 811.2,460.9 809.7,459.6 808.2,458.4 806.7,457.2 805.2,456.0 803.7,454.9 802.2,453.7 800.7,452.6 799.2,451.4 797.7,450.3 796.2,449.2 794.7,448.1 793.2,447.0 791.7,445.9 790.2,444.8 788.7,443.7 787.2,442.6 785.7,441.5 784.2,440.4 782.7,439.3 781.2,438.2 779.7,437.1 778.2,436.0 776.7,434.9 775.2,433.8 773.7,432.8 772.2,431.7 770.7,430.6 769.2,429.5 767.7,428.5 766.2,427.4 764.7,426.4 763.2,425.3 761.7,424.2 760.2,423.2 758.7,422.2 757.2,421.1 755.7,420.1 754.2,419.1 752.7,418.1 751.2,417.1 749.7,416.1 748.2,415.1 746.7,414.1 745.2,413.1 743.7,412.1 742.2,411.2 740.7,410.2 739.2,409.3 737.7,408.3 736.2,407.4 734.7,406.5 733.2,405.5 731.7,404.6 730.2,403.7 728.7,402.8 727.2,402.0 725.7,401.1 724.2,400.2 722.7,399.4 721.2,398.6 719.7,397.7 718.2,396.9 716.7,396.1 715.2,395.3 713.7,394.5 712.2,393.7 710.7,392.9 709.2,392.1 707.7,391.4 706.2,390.6 704.7,389.9 703.2,389.1 701.7,388.4 700.2,387.6 698.7,386.9 697.2,386.2 695.7,385.5 694.2,384.8 692.7,384.1 691.2,383.4 689.7,382.7 688.2,382.0 686.7,381.3 685.2,380.7 683.7,380.0 682.2,379.3 680.7,378.7 679.2,378.0 677.7,377.4 676.2,376.7 674.7,376.1 673.2,375.4 671.7,374.8 670.2,374.2 668.7,373.5 667.2,372.9 665.7,372.2 664.2,371.6 662.7,370.9 661.2,370.2 659.7,369.5 658.2,368.8 656.7,368.1 655.2,367.4 653.7,366.6 652.2,365.9 650.7,365.1 649.2,364.2 647.7,363.4 646.2,362.5 644.7,361.6 643.2,360.6 641.7,359.7 640.2,358.7 638.7,357.7 637.2,356.6 635.7,355.6 634.2,354.5 632.7,353.3 631.2,352.2 629.7,351.0 628.2,349.9 626.7,348.6 625.2,347.4 623.7,346.2 622.2,344.9 620.7,343.6 619.2,342.3 617.7,341.0 616.2,339.7 614.7,338.3 613.2,336.9 611.7,335.6 610.2,334.2 608.7,332.7 607.2,331.3 605.7,329.9 604.2,328.4 602.7,327.0 601.2,325.5 599.7,324.0 598.2,322.5 596.7,321.1 595.2,319.6 593.7,318.0 592.2,316.5 590.7,315.0 589.2,313.5 587.7,312.0 586.2,310.4 584.7,308.9 583.2,307.4 581.7,305.8 580.2,304.3 578.7,302.7 577.2,301.2 575.7,299.7 574.2,298.1 572.7,296.6 571.2,295.1 569.7,293.6 568.2,292.0 566.7,290.5 565.2,289.0 563.7,287.5 562.2,286.1 560.7,284.6 559.2,283.1 557.7,281.6 556.2,280.2 554.7,278.8 553.2,277.3 551.7,275.9 550.2,274.5 548.7,273.2 547.2,271.8 545.7,270.4 544.2,269.1 542.7,267.8 541.2,266.5 539.7,265.2 538.2,263.9 536.7,262.7 535.2,261.4 533.7,260.2 532.2,259.0 530.7,257.8 529.2,256.7 527.7,255.5 526.2,254.4 524.7,253.3 523.2,252.1 521.7,251.1 520.2,250.0 518.7,248.9 517.2,247.9 515.7,246.9 514.2,245.8 512.7,244.8 511.2,243.9 509.7,242.9 508.2,241.9 506.7,241.0 505.2,240.1 503.7,239.2 502.2,238.3 500.7,237.4 499.2,236.5 497.7,235.7 496.2,234.8 494.7,234.0 493.2,233.2 491.7,232.4 490.2,231.6 488.7,230.8 487.2,230.1 485.7,229.3 484.2,228.6 482.7,227.9 481.2,227.2 479.7,226.5 478.2,225.8 476.7,225.2 475.2,224.5 473.7,223.8 472.2,223.2 470.7,222.6 469.2,222.0 467.7,221.4 466.2,220.8 464.7,220.2 463.2,219.6 461.7,219.1 460.2,218.5 458.7,218.0 457.2,217.5 455.7,216.9 454.2,216.4 452.7,215.9 451.2,215.4 449.7,215.0 448.2,214.5 446.7,214.0 445.2,213.6 443.7,213.1 442.2,212.7 440.7,212.2 439.2,211.8 437.7,211.4 436.2,211.0 434.7,210.6 433.2,210.2 431.7,209.8 430.2,209.4 428.7,209.0 427.2,208.6 425.7,208.3 424.2,207.9 422.7,207.6 421.2,207.2 419.7,206.9 418.2,206.5 416.7,206.2 415.2,205.8 413.7,205.5 412.2,205.2 410.7,204.9 409.2,204.6 407.7,204.2 406.2,203.9 404.7,203.6 403.2,203.3 401.7,203.0 400.2,202.7 398.7,202.4 397.2,202.1 395.7,201.8 394.2,201.5 392.7,201.3 391.2,201.0 389.7,200.7 388.2,200.4 386.7,200.1 385.2,199.8 383.7,199.5 382.2,199.2 380.7,198.9 379.2,198.7 377.7,198.4 376.2,198.1 374.7,197.8 373.2,197.5 371.7,197.2 370.2,196.9 368.7,196.6 367.2,196.3 365.7,196.0 364.2,195.6 362.7,195.3 361.2,195.0 359.7,194.7 358.2,194.4 356.7,194.0 355.2,193.7 353.7,193.4 352.2,193.0 350.7,192.7 349.2,192.3 347.7,191.9 346.2,191.6 344.7,191.2 343.2,190.8 341.7,190.4 340.2,190.0 338.7,189.6 337.2,189.2 335.7,188.8 334.2,188.4 332.7,188.0 331.2,187.5 329.7,187.1 328.2,186.6 326.7,186.2 325.2,185.7 323.7,185.2 322.2,184.7 320.7,184.2 319.2,183.7 317.7,183.2 316.2,182.7 314.7,182.1 313.2,181.6 311.7,181.0 310.2,180.4 308.7,179.8 307.2,179.2 305.7,178.6 304.2,178.0 302.7,177.3 301.2,176.6 299.7,176.0 298.2,175.3 296.7,174.5 295.2,173.8 293.7,173.1 292.2,172.3 290.7,171.5 289.2,170.7 287.7,169.9 286.2,169.0 284.7,168.2 283.2,167.3 281.7,166.4 280.2,165.5 278.7,164.6 277.2,163.7 275.7,162.8 274.2,161.9 272.7,161.0 271.2,160.1 269.7,159.1 268.2,158.2 266.7,157.3 265.2,156.4 263.7,155.5 262.2,154.6 260.7,153.8 259.2,152.9 257.7,152.1 256.2,151.2 254.7,150.4 253.2,149.6 251.7,148.9 250.2,148.1 248.7,147.4 247.2,146.7 245.7,146.1 244.2,145.4 242.7,144.8 241.2,144.3 239.7,143.7 238.2,143.2Z" fill="#000"/>
<use href="#cr" transform="translate(0,-0.2)" stroke="#ff0000" stroke-width="8.0" fill="none" stroke-linejoin="round" stroke-linecap="round"/>
<use href="#cr" stroke="#ff0000" stroke-width="8.0" fill="none" stroke-linejoin="round" stroke-linecap="round"/>
<use href="#cr" transform="translate(0,0.2)" stroke="#ff0000" stroke-width="8.0" fill="none" stroke-linejoin="round" stroke-linecap="round"/>
<use href="#cb" transform="translate(0,-0.2)" stroke="#0000ff" stroke-width="8.0" fill="none" stroke-linejoin="round" stroke-linecap="round"/>
<use href="#cb" stroke="#0000ff" stroke-width="8.0" fill="none" stroke-linejoin="round" stroke-linecap="round"/>
<use href="#cb" transform="translate(0,0.2)" stroke="#0000ff" stroke-width="8.0" fill="none" stroke-linejoin="round" stroke-linecap="round"/>
<use href="#cm" transform="translate(0,-0.6)" stroke="#ff00ff" stroke-width="8.0" fill="none" stroke-linejoin="round" stroke-linecap="round"/>
<use href="#cm" stroke="#ff00ff" stroke-width="8.0" fill="none" stroke-linejoin="round" stroke-linecap="round"/>
<use href="#cm" transform="translate(0,0.6)" stroke="#ff00ff" stroke-width="8.0" fill="none" stroke-linejoin="round" stroke-linecap="round"/>
<use href="#cg" transform="translate(0,-1.6)" stroke="#008000" stroke-width="7.6" fill="none" stroke-linejoin="round" stroke-linecap="round"/>
<use href="#cg" stroke="#008000" stroke-width="7.6" fill="none" stroke-linejoin="round" stroke-linecap="round"/>
<use href="#cg" transform="translate(0,1.6)" stroke="#008000" stroke-width="7.6" fill="none" stroke-linejoin="round" stroke-linecap="round"/>
</g>
<text x="202.2" y="1035.9" font-family="Liberation Sans, sans-serif" font-weight="bold" font-size="47.5" text-anchor="end">0</text>
<text x="202.2" y="857.0" font-family="Liberation Sans, sans-serif" font-weight="bold" font-size="47.5" text-anchor="end">20</text>
<text x="202.2" y="678.0" font-family="Liberation Sans, sans-serif" font-weight="bold" font-size="47.5" text-anchor="end">40</text>
<text x="202.2" y="499.1" font-family="Liberation Sans, sans-serif" font-weight="bold" font-size="47.5" text-anchor="end">60</text>
<text x="202.2" y="320.1" font-family="Liberation Sans, sans-serif" font-weight="bold" font-size="47.5" text-anchor="end">80</text>
<text x="203" y="141.2" font-family="Liberation Sans, sans-serif" font-weight="bold" font-size="47.5" text-anchor="end">00</text>
<path d="M137,108.9 L141.9,108.9 L141.9,141.4 L137,141.4 L137,117.6 L130.2,122 L126.2,122 L126.2,117.3 L134.8,109.3 Z" fill="#000"/>
<text x="406" y="1087.4" font-family="Liberation Sans, sans-serif" font-weight="bold" font-size="42.5" text-anchor="end">00</text>
<path d="M345.7,1058 L351,1058 L351,1087.6 L345.7,1087.6 L345.7,1067 L340,1071.3 L337.4,1071.3 L337.4,1066.6 L343.3,1060.5 Z" fill="#000"/>
<text x="554.2" y="1087.4" font-family="Liberation Sans, sans-serif" font-weight="bold" font-size="42.5" text-anchor="middle">200</text>
<text x="737.9" y="1087.4" font-family="Liberation Sans, sans-serif" font-weight="bold" font-size="42.5" text-anchor="middle">300</text>
<text x="921.6" y="1087.4" font-family="Liberation Sans, sans-serif" font-weight="bold" font-size="42.5" text-anchor="middle">400</text>
<text x="1105.2" y="1087.4" font-family="Liberation Sans, sans-serif" font-weight="bold" font-size="42.5" text-anchor="middle">500</text>
<text x="1288.9" y="1087.4" font-family="Liberation Sans, sans-serif" font-weight="bold" font-size="42.5" text-anchor="middle">600</text>
<text x="826.3" y="1174" font-family="Liberation Sans, sans-serif" font-weight="bold" font-size="56" text-anchor="middle">Temperature (°C)</text>
<text transform="translate(79,531) rotate(-90)" font-family="Liberation Sans, sans-serif" font-weight="bold" font-size="57" text-anchor="middle">weight %</text>
<text x="380" y="768.5" font-family="Liberation Sans, sans-serif" font-weight="bold" font-size="38.75">Neat lignin</text>
<text x="380" y="819.7" font-family="Liberation Sans, sans-serif" font-weight="bold" font-size="38.75">PLLA_Lignin</text>
<text x="380" y="869.5" font-family="Liberation Sans, sans-serif" font-weight="bold" font-size="38.75">PLLA_Lignin_C30B (1:1)</text>
<text x="380" y="920.8" font-family="Liberation Sans, sans-serif" font-weight="bold" font-size="38.75">PLLA_Lignin_C30B (1:2)</text>
<text x="380" y="970.3" font-family="Liberation Sans, sans-serif" font-weight="bold" font-size="38.75">PLLA_Lignin_C30B (2:1)</text>
<rect x="765.4" y="865.3" width="6.4" height="5" fill="#fff"/>
<rect x="778.2" y="865.3" width="6.6" height="5" fill="#fff"/>
<rect x="799.4" y="865.3" width="6.4" height="5" fill="#fff"/>
<rect x="812.2" y="865.3" width="6.6" height="5" fill="#fff"/>
<rect x="765.4" y="916.6" width="6.4" height="5" fill="#fff"/>
<rect x="778.2" y="916.6" width="6.6" height="5" fill="#fff"/>
<rect x="799.4" y="966.1" width="6.4" height="5" fill="#fff"/>
<rect x="812.2" y="966.1" width="6.6" height="5" fill="#fff"/>
<text transform="translate(1353.8,132.7) scale(0.915,1)" font-family="Liberation Sans, sans-serif" font-weight="bold" font-size="54.5" text-anchor="middle">a</text>
</svg>
</body></html>
